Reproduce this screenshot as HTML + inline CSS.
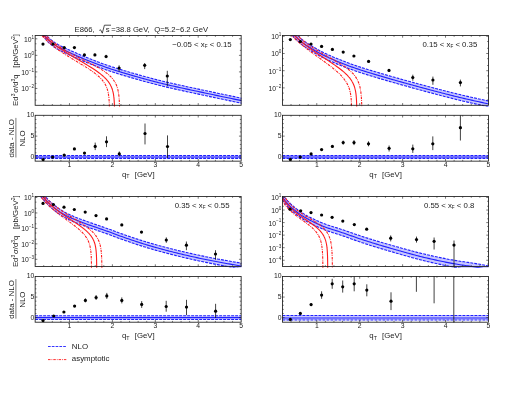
<!DOCTYPE html>
<html><head><meta charset="utf-8"><title>E866</title>
<style>html,body{margin:0;padding:0;background:#fff;overflow:hidden}body{width:523px;height:410px;font-family:"Liberation Sans", sans-serif}svg{display:block}</style>
</head><body>
<svg width="523" height="410" viewBox="0 0 523 410" font-family='"Liberation Sans", sans-serif'>
<rect width="523" height="410" fill="#fff"/>
<defs>
<clipPath id="m00"><rect x="34.85" y="35.2" width="206.6" height="71.4"/></clipPath>
<clipPath id="r00"><rect x="34.85" y="115" width="206.6" height="46.45"/></clipPath>
<clipPath id="m01"><rect x="282.15" y="35.2" width="206.6" height="71.4"/></clipPath>
<clipPath id="r01"><rect x="282.15" y="115" width="206.6" height="46.45"/></clipPath>
<clipPath id="m10"><rect x="34.85" y="196.2" width="206.6" height="71.6"/></clipPath>
<clipPath id="r10"><rect x="34.85" y="276.2" width="206.6" height="46.3"/></clipPath>
<clipPath id="m11"><rect x="282.15" y="196.2" width="206.6" height="71.6"/></clipPath>
<clipPath id="r11"><rect x="282.15" y="276.2" width="206.6" height="46.3"/></clipPath>
</defs>
<g opacity="0.999">
<g clip-path="url(#m00)">
<path d="M40 27.05 L41.28 28.65 L42.56 30.24 L43.83 31.84 L45.11 33.44 L46.39 35.11 L47.67 36.62 L48.94 37.9 L50.22 39.06 L51.5 40.12 L52.78 41.11 L54.05 42.03 L55.33 42.89 L56.61 43.69 L57.89 44.44 L59.17 45.13 L60.44 45.77 L61.72 46.38 L63 46.98 L64.28 47.59 L65.55 48.21 L66.83 48.83 L68.11 49.45 L69.39 50.04 L70.66 50.62 L71.94 51.18 L73.22 51.73 L74.5 52.29 L75.77 52.87 L77.05 53.45 L78.33 54.02 L79.61 54.59 L80.89 55.14 L82.16 55.68 L83.44 56.21 L84.72 56.73 L86 57.24 L87.27 57.75 L88.55 58.26 L89.83 58.75 L91.11 59.25 L92.38 59.74 L93.66 60.24 L94.94 60.73 L96.22 61.22 L97.5 61.71 L98.77 62.2 L100.05 62.68 L101.33 63.16 L102.61 63.64 L103.88 64.1 L105.16 64.56 L106.44 65 L107.72 65.44 L108.99 65.87 L110.27 66.29 L111.55 66.7 L112.83 67.11 L114.11 67.52 L115.38 67.92 L116.66 68.32 L117.94 68.72 L119.22 69.12 L120.49 69.51 L121.77 69.9 L123.05 70.29 L124.33 70.68 L125.6 71.06 L126.88 71.44 L128.16 71.82 L129.44 72.19 L130.71 72.56 L131.99 72.92 L133.27 73.29 L134.55 73.66 L135.83 74.02 L137.1 74.38 L138.38 74.75 L139.66 75.11 L140.94 75.47 L142.21 75.83 L143.49 76.18 L144.77 76.54 L146.05 76.89 L147.32 77.24 L148.6 77.58 L149.88 77.93 L151.16 78.27 L152.44 78.61 L153.71 78.94 L154.99 79.28 L156.27 79.61 L157.55 79.93 L158.82 80.26 L160.1 80.58 L161.38 80.89 L162.66 81.2 L163.93 81.51 L165.21 81.81 L166.49 82.11 L167.77 82.4 L169.04 82.7 L170.32 82.99 L171.6 83.28 L172.88 83.56 L174.16 83.85 L175.43 84.14 L176.71 84.42 L177.99 84.7 L179.27 84.99 L180.54 85.27 L181.82 85.55 L183.1 85.83 L184.38 86.11 L185.65 86.39 L186.93 86.67 L188.21 86.94 L189.49 87.21 L190.77 87.49 L192.04 87.76 L193.32 88.03 L194.6 88.3 L195.88 88.57 L197.15 88.85 L198.43 89.12 L199.71 89.39 L200.99 89.66 L202.26 89.93 L203.54 90.2 L204.82 90.47 L206.1 90.75 L207.38 91.02 L208.65 91.29 L209.93 91.56 L211.21 91.83 L212.49 92.1 L213.76 92.37 L215.04 92.64 L216.32 92.91 L217.6 93.18 L218.87 93.45 L220.15 93.72 L221.43 93.99 L222.71 94.26 L223.98 94.53 L225.26 94.8 L226.54 95.06 L227.82 95.33 L229.1 95.6 L230.37 95.86 L231.65 96.13 L232.93 96.39 L234.21 96.66 L235.48 96.92 L236.76 97.18 L238.04 97.44 L239.32 97.71 L240.59 97.97 L241.87 98.23 L243.15 98.49 L243.15 103.54 L241.87 103.28 L240.59 103.02 L239.32 102.75 L238.04 102.49 L236.76 102.23 L235.48 101.96 L234.21 101.7 L232.93 101.43 L231.65 101.17 L230.37 100.9 L229.1 100.64 L227.82 100.37 L226.54 100.1 L225.26 99.83 L223.98 99.56 L222.71 99.29 L221.43 99.03 L220.15 98.76 L218.87 98.49 L217.6 98.21 L216.32 97.94 L215.04 97.67 L213.76 97.4 L212.49 97.13 L211.21 96.86 L209.93 96.59 L208.65 96.31 L207.38 96.04 L206.1 95.77 L204.82 95.5 L203.54 95.22 L202.26 94.95 L200.99 94.68 L199.71 94.41 L198.43 94.13 L197.15 93.86 L195.88 93.59 L194.6 93.32 L193.32 93.04 L192.04 92.77 L190.77 92.5 L189.49 92.22 L188.21 91.95 L186.93 91.67 L185.65 91.4 L184.38 91.12 L183.1 90.84 L181.82 90.56 L180.54 90.27 L179.27 89.99 L177.99 89.71 L176.71 89.42 L175.43 89.14 L174.16 88.85 L172.88 88.56 L171.6 88.27 L170.32 87.98 L169.04 87.69 L167.77 87.4 L166.49 87.1 L165.21 86.8 L163.93 86.5 L162.66 86.19 L161.38 85.88 L160.1 85.56 L158.82 85.24 L157.55 84.92 L156.27 84.59 L154.99 84.26 L153.71 83.93 L152.44 83.59 L151.16 83.25 L149.88 82.91 L148.6 82.56 L147.32 82.22 L146.05 81.87 L144.77 81.51 L143.49 81.16 L142.21 80.8 L140.94 80.44 L139.66 80.08 L138.38 79.72 L137.1 79.36 L135.83 78.99 L134.55 78.63 L133.27 78.26 L131.99 77.89 L130.71 77.52 L129.44 77.15 L128.16 76.78 L126.88 76.4 L125.6 76.02 L124.33 75.64 L123.05 75.25 L121.77 74.86 L120.49 74.47 L119.22 74.08 L117.94 73.68 L116.66 73.28 L115.38 72.88 L114.11 72.47 L112.83 72.07 L111.55 71.66 L110.27 71.24 L108.99 70.82 L107.72 70.39 L106.44 69.95 L105.16 69.5 L103.88 69.05 L102.61 68.58 L101.33 68.11 L100.05 67.63 L98.77 67.14 L97.5 66.65 L96.22 66.16 L94.94 65.67 L93.66 65.18 L92.38 64.68 L91.11 64.19 L89.83 63.69 L88.55 63.19 L87.27 62.69 L86 62.18 L84.72 61.66 L83.44 61.14 L82.16 60.61 L80.89 60.07 L79.61 59.52 L78.33 58.95 L77.05 58.37 L75.77 57.79 L74.5 57.22 L73.22 56.66 L71.94 56.1 L70.66 55.54 L69.39 54.97 L68.11 54.37 L66.83 53.75 L65.55 53.13 L64.28 52.5 L63 51.89 L61.72 51.29 L60.44 50.69 L59.17 50.05 L57.89 49.36 L56.61 48.61 L55.33 47.8 L54.05 46.94 L52.78 46.02 L51.5 45.03 L50.22 43.97 L48.94 42.81 L47.67 41.53 L46.39 40.02 L45.11 38.35 L43.83 36.74 L42.56 35.15 L41.28 33.55 L40 31.95Z" fill="#c6c6ff" stroke="none"/>
<path d="M40 27.05 L41.28 28.65 L42.56 30.24 L43.83 31.84 L45.11 33.44 L46.39 35.11 L47.67 36.62 L48.94 37.9 L50.22 39.06 L51.5 40.12 L52.78 41.11 L54.05 42.03 L55.33 42.89 L56.61 43.69 L57.89 44.44 L59.17 45.13 L60.44 45.77 L61.72 46.38 L63 46.98 L64.28 47.59 L65.55 48.21 L66.83 48.83 L68.11 49.45 L69.39 50.04 L70.66 50.62 L71.94 51.18 L73.22 51.73 L74.5 52.29 L75.77 52.87 L77.05 53.45 L78.33 54.02 L79.61 54.59 L80.89 55.14 L82.16 55.68 L83.44 56.21 L84.72 56.73 L86 57.24 L87.27 57.75 L88.55 58.26 L89.83 58.75 L91.11 59.25 L92.38 59.74 L93.66 60.24 L94.94 60.73 L96.22 61.22 L97.5 61.71 L98.77 62.2 L100.05 62.68 L101.33 63.16 L102.61 63.64 L103.88 64.1 L105.16 64.56 L106.44 65 L107.72 65.44 L108.99 65.87 L110.27 66.29 L111.55 66.7 L112.83 67.11 L114.11 67.52 L115.38 67.92 L116.66 68.32 L117.94 68.72 L119.22 69.12 L120.49 69.51 L121.77 69.9 L123.05 70.29 L124.33 70.68 L125.6 71.06 L126.88 71.44 L128.16 71.82 L129.44 72.19 L130.71 72.56 L131.99 72.92 L133.27 73.29 L134.55 73.66 L135.83 74.02 L137.1 74.38 L138.38 74.75 L139.66 75.11 L140.94 75.47 L142.21 75.83 L143.49 76.18 L144.77 76.54 L146.05 76.89 L147.32 77.24 L148.6 77.58 L149.88 77.93 L151.16 78.27 L152.44 78.61 L153.71 78.94 L154.99 79.28 L156.27 79.61 L157.55 79.93 L158.82 80.26 L160.1 80.58 L161.38 80.89 L162.66 81.2 L163.93 81.51 L165.21 81.81 L166.49 82.11 L167.77 82.4 L169.04 82.7 L170.32 82.99 L171.6 83.28 L172.88 83.56 L174.16 83.85 L175.43 84.14 L176.71 84.42 L177.99 84.7 L179.27 84.99 L180.54 85.27 L181.82 85.55 L183.1 85.83 L184.38 86.11 L185.65 86.39 L186.93 86.67 L188.21 86.94 L189.49 87.21 L190.77 87.49 L192.04 87.76 L193.32 88.03 L194.6 88.3 L195.88 88.57 L197.15 88.85 L198.43 89.12 L199.71 89.39 L200.99 89.66 L202.26 89.93 L203.54 90.2 L204.82 90.47 L206.1 90.75 L207.38 91.02 L208.65 91.29 L209.93 91.56 L211.21 91.83 L212.49 92.1 L213.76 92.37 L215.04 92.64 L216.32 92.91 L217.6 93.18 L218.87 93.45 L220.15 93.72 L221.43 93.99 L222.71 94.26 L223.98 94.53 L225.26 94.8 L226.54 95.06 L227.82 95.33 L229.1 95.6 L230.37 95.86 L231.65 96.13 L232.93 96.39 L234.21 96.66 L235.48 96.92 L236.76 97.18 L238.04 97.44 L239.32 97.71 L240.59 97.97 L241.87 98.23 L243.15 98.49" fill="none" stroke="#1f1fff" stroke-width="1.1" stroke-dasharray="2.9 1.1"/>
<path d="M40 31.95 L41.28 33.55 L42.56 35.15 L43.83 36.74 L45.11 38.35 L46.39 40.02 L47.67 41.53 L48.94 42.81 L50.22 43.97 L51.5 45.03 L52.78 46.02 L54.05 46.94 L55.33 47.8 L56.61 48.61 L57.89 49.36 L59.17 50.05 L60.44 50.69 L61.72 51.29 L63 51.89 L64.28 52.5 L65.55 53.13 L66.83 53.75 L68.11 54.37 L69.39 54.97 L70.66 55.54 L71.94 56.1 L73.22 56.66 L74.5 57.22 L75.77 57.79 L77.05 58.37 L78.33 58.95 L79.61 59.52 L80.89 60.07 L82.16 60.61 L83.44 61.14 L84.72 61.66 L86 62.18 L87.27 62.69 L88.55 63.19 L89.83 63.69 L91.11 64.19 L92.38 64.68 L93.66 65.18 L94.94 65.67 L96.22 66.16 L97.5 66.65 L98.77 67.14 L100.05 67.63 L101.33 68.11 L102.61 68.58 L103.88 69.05 L105.16 69.5 L106.44 69.95 L107.72 70.39 L108.99 70.82 L110.27 71.24 L111.55 71.66 L112.83 72.07 L114.11 72.47 L115.38 72.88 L116.66 73.28 L117.94 73.68 L119.22 74.08 L120.49 74.47 L121.77 74.86 L123.05 75.25 L124.33 75.64 L125.6 76.02 L126.88 76.4 L128.16 76.78 L129.44 77.15 L130.71 77.52 L131.99 77.89 L133.27 78.26 L134.55 78.63 L135.83 78.99 L137.1 79.36 L138.38 79.72 L139.66 80.08 L140.94 80.44 L142.21 80.8 L143.49 81.16 L144.77 81.51 L146.05 81.87 L147.32 82.22 L148.6 82.56 L149.88 82.91 L151.16 83.25 L152.44 83.59 L153.71 83.93 L154.99 84.26 L156.27 84.59 L157.55 84.92 L158.82 85.24 L160.1 85.56 L161.38 85.88 L162.66 86.19 L163.93 86.5 L165.21 86.8 L166.49 87.1 L167.77 87.4 L169.04 87.69 L170.32 87.98 L171.6 88.27 L172.88 88.56 L174.16 88.85 L175.43 89.14 L176.71 89.42 L177.99 89.71 L179.27 89.99 L180.54 90.27 L181.82 90.56 L183.1 90.84 L184.38 91.12 L185.65 91.4 L186.93 91.67 L188.21 91.95 L189.49 92.22 L190.77 92.5 L192.04 92.77 L193.32 93.04 L194.6 93.32 L195.88 93.59 L197.15 93.86 L198.43 94.13 L199.71 94.41 L200.99 94.68 L202.26 94.95 L203.54 95.22 L204.82 95.5 L206.1 95.77 L207.38 96.04 L208.65 96.31 L209.93 96.59 L211.21 96.86 L212.49 97.13 L213.76 97.4 L215.04 97.67 L216.32 97.94 L217.6 98.21 L218.87 98.49 L220.15 98.76 L221.43 99.03 L222.71 99.29 L223.98 99.56 L225.26 99.83 L226.54 100.1 L227.82 100.37 L229.1 100.64 L230.37 100.9 L231.65 101.17 L232.93 101.43 L234.21 101.7 L235.48 101.96 L236.76 102.23 L238.04 102.49 L239.32 102.75 L240.59 103.02 L241.87 103.28 L243.15 103.54" fill="none" stroke="#1f1fff" stroke-width="1.1" stroke-dasharray="2.9 1.1"/>
<path d="M40 29.5 L41.28 31.1 L42.56 32.69 L43.83 34.29 L45.11 35.89 L46.39 37.56 L47.67 39.07 L48.94 40.35 L50.22 41.51 L51.5 42.57 L52.78 43.56 L54.05 44.48 L55.33 45.34 L56.61 46.14 L57.89 46.89 L59.17 47.58 L60.44 48.22 L61.72 48.83 L63 49.43 L64.28 50.04 L65.55 50.66 L66.83 51.28 L68.11 51.9 L69.39 52.49 L70.66 53.07 L71.94 53.63 L73.22 54.18 L74.5 54.74 L75.77 55.32 L77.05 55.9 L78.33 56.47 L79.61 57.04 L80.89 57.59 L82.16 58.13 L83.44 58.66 L84.72 59.18 L86 59.69 L87.27 60.2 L88.55 60.71 L89.83 61.2 L91.11 61.7 L92.38 62.19 L93.66 62.69 L94.94 63.18 L96.22 63.67 L97.5 64.16 L98.77 64.65 L100.05 65.13 L101.33 65.61 L102.61 66.09 L103.88 66.55 L105.16 67.01 L106.44 67.45 L107.72 67.89 L108.99 68.32 L110.27 68.74 L111.55 69.15 L112.83 69.56 L114.11 69.97 L115.38 70.37 L116.66 70.77 L117.94 71.17 L119.22 71.57 L120.49 71.96 L121.77 72.35 L123.05 72.74 L124.33 73.13 L125.6 73.51 L126.88 73.89 L128.16 74.27 L129.44 74.64 L130.71 75.01 L131.99 75.37 L133.27 75.74 L134.55 76.11 L135.83 76.47 L137.1 76.83 L138.38 77.2 L139.66 77.56 L140.94 77.92 L142.21 78.28 L143.49 78.63 L144.77 78.99 L146.05 79.34 L147.32 79.69 L148.6 80.03 L149.88 80.38 L151.16 80.72 L152.44 81.06 L153.71 81.39 L154.99 81.73 L156.27 82.06 L157.55 82.38 L158.82 82.71 L160.1 83.03 L161.38 83.34 L162.66 83.65 L163.93 83.96 L165.21 84.26 L166.49 84.56 L167.77 84.85 L169.04 85.15 L170.32 85.44 L171.6 85.73 L172.88 86.01 L174.16 86.3 L175.43 86.59 L176.71 86.87 L177.99 87.15 L179.27 87.44 L180.54 87.72 L181.82 88 L183.1 88.28 L184.38 88.56 L185.65 88.84 L186.93 89.12 L188.21 89.39 L189.49 89.66 L190.77 89.94 L192.04 90.21 L193.32 90.48 L194.6 90.75 L195.88 91.02 L197.15 91.3 L198.43 91.57 L199.71 91.84 L200.99 92.11 L202.26 92.38 L203.54 92.65 L204.82 92.92 L206.1 93.2 L207.38 93.47 L208.65 93.74 L209.93 94.01 L211.21 94.28 L212.49 94.55 L213.76 94.82 L215.04 95.09 L216.32 95.36 L217.6 95.63 L218.87 95.9 L220.15 96.17 L221.43 96.44 L222.71 96.71 L223.98 96.98 L225.26 97.25 L226.54 97.51 L227.82 97.78 L229.1 98.05 L230.37 98.31 L231.65 98.58 L232.93 98.84 L234.21 99.11 L235.48 99.37 L236.76 99.63 L238.04 99.89 L239.32 100.16 L240.59 100.42 L241.87 100.68 L243.15 100.94" fill="none" stroke="#1f1fff" stroke-width="1.1"/>
</g>
<g clip-path="url(#m00)">
<path d="M31.72 17.48 L32.61 19.98 L33.51 22.14 L34.39 24.06 L35.27 25.78 L36.14 27.35 L37 28.79 L37.86 30.11 L38.71 31.35 L39.55 32.51 L40.39 33.6 L41.22 34.63 L42.04 35.6 L42.86 36.53 L43.67 37.41 L44.47 38.26 L45.26 39.07 L46.06 39.85 L46.84 40.6 L47.62 41.32 L48.39 42.02 L49.15 42.7 L49.91 43.35 L50.66 43.99 L51.41 44.6 L52.14 45.2 L52.88 45.78 L53.6 46.35 L54.32 46.9 L55.04 47.44 L55.74 47.97 L56.45 48.48 L57.14 48.99 L57.83 49.48 L58.51 49.96 L59.19 50.44 L59.86 50.9 L60.53 51.35 L61.19 51.8 L61.84 52.23 L62.49 52.66 L63.13 53.09 L63.76 53.5 L64.39 53.91 L65.02 54.31 L65.64 54.71 L66.25 55.09 L66.86 55.48 L67.46 55.86 L68.05 56.23 L68.64 56.59 L69.23 56.96 L69.8 57.31 L70.38 57.66 L70.94 58.01 L71.51 58.36 L72.06 58.69 L72.61 59.03 L73.16 59.36 L73.7 59.69 L74.23 60.01 L74.76 60.33 L75.29 60.64 L75.81 60.96 L76.32 61.27 L76.83 61.57 L77.33 61.87 L77.83 62.17 L78.32 62.47 L78.81 62.77 L79.29 63.06 L79.77 63.35 L80.24 63.63 L80.71 63.91 L81.17 64.2 L81.63 64.47 L82.08 64.75 L82.53 65.02 L82.97 65.3 L83.41 65.57 L83.84 65.83 L84.27 66.1 L84.69 66.36 L85.11 66.62 L85.53 66.88 L85.94 67.14 L86.34 67.4 L86.74 67.65 L87.13 67.9 L87.53 68.16 L87.91 68.41 L88.29 68.65 L88.67 68.9 L89.04 69.15 L89.41 69.39 L89.77 69.63 L90.13 69.87 L90.49 70.11 L90.84 70.35 L91.18 70.59 L91.53 70.83 L91.86 71.06 L92.2 71.3 L92.53 71.53 L92.85 71.76 L93.17 71.99 L93.49 72.23 L93.8 72.46 L94.11 72.68 L94.41 72.91 L94.71 73.14 L95.01 73.37 L95.3 73.59 L95.59 73.82 L95.87 74.04 L96.16 74.27 L96.43 74.49 L96.71 74.71 L96.97 74.94 L97.24 75.16 L97.5 75.38 L97.76 75.6 L98.01 75.82 L98.26 76.04 L98.51 76.26 L98.75 76.48 L98.99 76.7 L99.23 76.92 L99.46 77.14 L99.69 77.36 L99.91 77.58 L100.14 77.8 L100.35 78.02 L100.57 78.24 L100.78 78.46 L100.99 78.68 L101.19 78.9 L101.4 79.12 L101.59 79.34 L101.79 79.56 L101.98 79.78 L102.17 80 L102.36 80.22 L102.54 80.44 L102.72 80.66 L102.89 80.88 L103.07 81.11 L103.24 81.33 L103.4 81.55 L103.57 81.78 L103.73 82 L103.89 82.23 L104.04 82.46 L104.19 82.68 L104.34 82.91 L104.49 83.14 L104.63 83.37 L104.78 83.6 L104.91 83.83 L105.05 84.07 L105.18 84.3 L105.31 84.54 L105.44 84.77 L105.57 85.01 L105.69 85.25 L105.81 85.49 L105.93 85.73 L106.04 85.97 L106.15 86.22 L106.26 86.46 L106.37 86.71 L106.48 86.96 L106.58 87.21 L106.68 87.47 L106.78 87.72 L106.87 87.98 L106.97 88.24 L107.06 88.5 L107.15 88.76 L107.24 89.03 L107.32 89.3 L107.4 89.57 L107.48 89.84 L107.56 90.12 L107.64 90.39 L107.71 90.68 L107.79 90.96 L107.86 91.25 L107.93 91.54 L107.99 91.83 L108.06 92.13 L108.12 92.43 L108.18 92.74 L108.24 93.04 L108.3 93.36 L108.35 93.67 L108.41 93.99 L108.46 94.32 L108.51 94.65 L108.56 94.98 L108.61 95.32 L108.65 95.66 L108.7 96.01 L108.74 96.37 L108.78 96.73 L108.82 97.1 L108.86 97.47 L108.9 97.85 L108.93 98.23 L108.97 98.63 L109 99.03 L109.03 99.44 L109.06 99.85 L109.09 100.28 L109.12 100.71 L109.15 101.15 L109.17 101.61 L109.2 102.07 L109.22 102.54 L109.24 103.03 L109.26 103.52 L109.28 104.03 L109.3 104.55 L109.32 105.09 L109.34 105.64 L109.35 106.2 L109.37 106.79 L109.38 107.38 L109.4 108 L109.4 108.3" fill="none" stroke="#ff1a1a" stroke-width="1.1" stroke-dasharray="2.5 1.0 0.8 1.0"/>
<path d="M31.72 9.04 L32.73 12.54 L33.74 15.5 L34.74 18.06 L35.73 20.32 L36.72 22.33 L37.69 24.16 L38.66 25.83 L39.62 27.36 L40.58 28.77 L41.52 30.09 L42.46 31.33 L43.39 32.48 L44.32 33.57 L45.23 34.61 L46.14 35.58 L47.04 36.51 L47.93 37.4 L48.82 38.25 L49.7 39.06 L50.57 39.83 L51.44 40.58 L52.29 41.3 L53.14 41.99 L53.99 42.65 L54.82 43.3 L55.65 43.92 L56.47 44.52 L57.29 45.11 L58.09 45.68 L58.89 46.23 L59.69 46.76 L60.47 47.28 L61.25 47.79 L62.03 48.28 L62.79 48.77 L63.55 49.24 L64.3 49.7 L65.05 50.15 L65.79 50.58 L66.52 51.01 L67.25 51.43 L67.97 51.85 L68.68 52.25 L69.38 52.64 L70.08 53.03 L70.78 53.41 L71.46 53.79 L72.14 54.15 L72.81 54.52 L73.48 54.87 L74.14 55.22 L74.8 55.56 L75.44 55.9 L76.09 56.24 L76.72 56.56 L77.35 56.89 L77.97 57.21 L78.59 57.52 L79.2 57.83 L79.81 58.14 L80.41 58.44 L81 58.74 L81.59 59.03 L82.17 59.33 L82.74 59.61 L83.31 59.9 L83.87 60.18 L84.43 60.46 L84.98 60.74 L85.53 61.01 L86.07 61.28 L86.6 61.55 L87.13 61.81 L87.65 62.08 L88.17 62.34 L88.68 62.6 L89.19 62.85 L89.69 63.11 L90.19 63.36 L90.67 63.61 L91.16 63.86 L91.64 64.1 L92.11 64.35 L92.58 64.59 L93.04 64.84 L93.5 65.08 L93.95 65.31 L94.4 65.55 L94.84 65.79 L95.28 66.02 L95.71 66.26 L96.14 66.49 L96.56 66.72 L96.97 66.95 L97.38 67.18 L97.79 67.41 L98.19 67.64 L98.59 67.86 L98.98 68.09 L99.37 68.32 L99.75 68.54 L100.12 68.76 L100.5 68.99 L100.86 69.21 L101.23 69.43 L101.59 69.65 L101.94 69.88 L102.29 70.1 L102.63 70.32 L102.97 70.54 L103.31 70.76 L103.64 70.98 L103.96 71.19 L104.29 71.41 L104.6 71.63 L104.92 71.85 L105.22 72.07 L105.53 72.29 L105.83 72.51 L106.12 72.73 L106.42 72.94 L106.7 73.16 L106.99 73.38 L107.27 73.6 L107.54 73.82 L107.81 74.04 L108.08 74.26 L108.34 74.48 L108.6 74.7 L108.85 74.92 L109.11 75.14 L109.35 75.37 L109.6 75.59 L109.83 75.81 L110.07 76.03 L110.3 76.26 L110.53 76.48 L110.75 76.71 L110.98 76.94 L111.19 77.16 L111.41 77.39 L111.62 77.62 L111.82 77.85 L112.02 78.08 L112.22 78.31 L112.42 78.54 L112.61 78.78 L112.8 79.01 L112.99 79.25 L113.17 79.49 L113.35 79.72 L113.52 79.96 L113.7 80.2 L113.86 80.45 L114.03 80.69 L114.19 80.94 L114.35 81.18 L114.51 81.43 L114.66 81.68 L114.81 81.93 L114.96 82.19 L115.11 82.44 L115.25 82.7 L115.39 82.96 L115.52 83.22 L115.65 83.48 L115.78 83.74 L115.91 84.01 L116.04 84.28 L116.16 84.55 L116.28 84.83 L116.39 85.1 L116.51 85.38 L116.62 85.66 L116.73 85.95 L116.83 86.23 L116.94 86.52 L117.04 86.82 L117.14 87.11 L117.23 87.41 L117.32 87.71 L117.42 88.02 L117.5 88.33 L117.59 88.64 L117.68 88.95 L117.76 89.27 L117.84 89.6 L117.92 89.92 L117.99 90.26 L118.06 90.59 L118.14 90.93 L118.21 91.28 L118.27 91.63 L118.34 91.98 L118.4 92.34 L118.46 92.7 L118.52 93.07 L118.58 93.45 L118.63 93.83 L118.69 94.22 L118.74 94.61 L118.79 95.01 L118.84 95.41 L118.89 95.83 L118.93 96.25 L118.97 96.67 L119.02 97.11 L119.06 97.55 L119.1 98 L119.13 98.47 L119.17 98.94 L119.2 99.41 L119.24 99.9 L119.27 100.4 L119.3 100.91 L119.33 101.44 L119.35 101.97 L119.38 102.52 L119.4 103.08 L119.43 103.65 L119.45 104.24 L119.47 104.84 L119.49 105.46 L119.51 106.1 L119.53 106.75 L119.55 107.43 L119.56 108.12 L119.56 108.3" fill="none" stroke="#ff1a1a" stroke-width="1.1" stroke-dasharray="2.5 1.0 0.8 1.0"/>
<path d="M31.72 16.68 L32.67 19.13 L33.62 21.25 L34.56 23.12 L35.5 24.8 L36.43 26.32 L37.35 27.72 L38.26 29.02 L39.16 30.22 L40.06 31.35 L40.95 32.42 L41.84 33.43 L42.72 34.38 L43.59 35.3 L44.45 36.17 L45.3 37 L46.15 37.8 L46.99 38.57 L47.83 39.32 L48.66 40.04 L49.48 40.73 L50.29 41.4 L51.1 42.06 L51.9 42.69 L52.7 43.31 L53.48 43.91 L54.26 44.49 L55.04 45.06 L55.8 45.62 L56.57 46.16 L57.32 46.7 L58.07 47.22 L58.81 47.73 L59.54 48.22 L60.27 48.71 L60.99 49.19 L61.71 49.66 L62.42 50.13 L63.12 50.58 L63.81 51.03 L64.5 51.47 L65.19 51.9 L65.86 52.32 L66.54 52.74 L67.2 53.15 L67.86 53.56 L68.51 53.96 L69.16 54.35 L69.8 54.74 L70.43 55.12 L71.06 55.5 L71.68 55.87 L72.3 56.24 L72.91 56.6 L73.52 56.96 L74.11 57.32 L74.71 57.67 L75.29 58.02 L75.88 58.36 L76.45 58.7 L77.02 59.03 L77.59 59.36 L78.14 59.69 L78.7 60.02 L79.24 60.34 L79.79 60.66 L80.32 60.97 L80.85 61.28 L81.38 61.59 L81.9 61.9 L82.41 62.2 L82.92 62.5 L83.42 62.8 L83.92 63.09 L84.41 63.39 L84.9 63.68 L85.38 63.97 L85.86 64.25 L86.33 64.53 L86.8 64.82 L87.26 65.1 L87.71 65.37 L88.17 65.65 L88.61 65.92 L89.05 66.19 L89.49 66.46 L89.92 66.73 L90.35 67 L90.77 67.26 L91.18 67.52 L91.59 67.78 L92 68.04 L92.4 68.3 L92.8 68.56 L93.19 68.81 L93.58 69.06 L93.96 69.32 L94.34 69.57 L94.71 69.82 L95.08 70.06 L95.45 70.31 L95.81 70.56 L96.16 70.8 L96.51 71.05 L96.86 71.29 L97.2 71.53 L97.54 71.77 L97.87 72.01 L98.2 72.25 L98.52 72.49 L98.84 72.72 L99.16 72.96 L99.47 73.19 L99.78 73.43 L100.08 73.66 L100.38 73.9 L100.67 74.13 L100.96 74.36 L101.25 74.59 L101.53 74.82 L101.81 75.05 L102.09 75.28 L102.36 75.51 L102.62 75.74 L102.89 75.97 L103.15 76.2 L103.4 76.43 L103.65 76.65 L103.9 76.88 L104.14 77.11 L104.38 77.34 L104.62 77.56 L104.85 77.79 L105.08 78.02 L105.31 78.24 L105.53 78.47 L105.75 78.7 L105.96 78.92 L106.17 79.15 L106.38 79.38 L106.59 79.61 L106.79 79.83 L106.99 80.06 L107.18 80.29 L107.37 80.52 L107.56 80.75 L107.74 80.98 L107.92 81.21 L108.1 81.44 L108.28 81.67 L108.45 81.9 L108.62 82.13 L108.78 82.36 L108.94 82.6 L109.1 82.83 L109.26 83.06 L109.41 83.3 L109.56 83.54 L109.71 83.77 L109.86 84.01 L110 84.25 L110.14 84.49 L110.27 84.73 L110.41 84.98 L110.54 85.22 L110.66 85.47 L110.79 85.71 L110.91 85.96 L111.03 86.21 L111.15 86.46 L111.26 86.71 L111.38 86.97 L111.49 87.22 L111.59 87.48 L111.7 87.74 L111.8 88 L111.9 88.27 L112 88.53 L112.09 88.8 L112.19 89.07 L112.28 89.34 L112.36 89.62 L112.45 89.9 L112.53 90.18 L112.62 90.46 L112.69 90.75 L112.77 91.03 L112.85 91.33 L112.92 91.62 L112.99 91.92 L113.06 92.22 L113.13 92.52 L113.19 92.83 L113.26 93.15 L113.32 93.46 L113.38 93.78 L113.44 94.11 L113.49 94.43 L113.55 94.77 L113.6 95.11 L113.65 95.45 L113.7 95.8 L113.74 96.15 L113.79 96.51 L113.83 96.87 L113.88 97.24 L113.92 97.62 L113.96 98 L114 98.39 L114.03 98.79 L114.07 99.19 L114.1 99.61 L114.13 100.03 L114.16 100.45 L114.19 100.89 L114.22 101.34 L114.25 101.79 L114.28 102.26 L114.3 102.74 L114.32 103.23 L114.35 103.73 L114.37 104.24 L114.39 104.77 L114.41 105.3 L114.42 105.86 L114.44 106.43 L114.46 107.02 L114.47 107.62 L114.49 108.24 L114.49 108.3" fill="none" stroke="#ff1a1a" stroke-width="1.1"/>
</g>
<rect x="35.15" y="35.5" width="206" height="69.8" fill="none" stroke="#1c1c1c" stroke-width="0.85"/>
<path d="M43.73 105.3 v-1.3 M43.73 35.5 v1.3 M52.32 105.3 v-1.3 M52.32 35.5 v1.3 M60.9 105.3 v-1.3 M60.9 35.5 v1.3 M69.48 105.3 v-2.2 M69.48 35.5 v2.2 M78.07 105.3 v-1.3 M78.07 35.5 v1.3 M86.65 105.3 v-1.3 M86.65 35.5 v1.3 M95.23 105.3 v-1.3 M95.23 35.5 v1.3 M103.82 105.3 v-1.3 M103.82 35.5 v1.3 M112.4 105.3 v-2.2 M112.4 35.5 v2.2 M120.98 105.3 v-1.3 M120.98 35.5 v1.3 M129.57 105.3 v-1.3 M129.57 35.5 v1.3 M138.15 105.3 v-1.3 M138.15 35.5 v1.3 M146.73 105.3 v-1.3 M146.73 35.5 v1.3 M155.32 105.3 v-2.2 M155.32 35.5 v2.2 M163.9 105.3 v-1.3 M163.9 35.5 v1.3 M172.48 105.3 v-1.3 M172.48 35.5 v1.3 M181.07 105.3 v-1.3 M181.07 35.5 v1.3 M189.65 105.3 v-1.3 M189.65 35.5 v1.3 M198.23 105.3 v-2.2 M198.23 35.5 v2.2 M206.82 105.3 v-1.3 M206.82 35.5 v1.3 M215.4 105.3 v-1.3 M215.4 35.5 v1.3 M223.98 105.3 v-1.3 M223.98 35.5 v1.3 M232.57 105.3 v-1.3 M232.57 35.5 v1.3 M35.15 38.8 h2.2 M241.15 38.8 h-2.2 M35.15 55.35 h2.2 M241.15 55.35 h-2.2 M35.15 71.9 h2.2 M241.15 71.9 h-2.2 M35.15 88.45 h2.2 M241.15 88.45 h-2.2 M35.15 50.37 h1.3 M241.15 50.37 h-1.3 M35.15 43.78 h1.3 M241.15 43.78 h-1.3 M35.15 66.92 h1.3 M241.15 66.92 h-1.3 M35.15 60.33 h1.3 M241.15 60.33 h-1.3 M35.15 83.47 h1.3 M241.15 83.47 h-1.3 M35.15 76.88 h1.3 M241.15 76.88 h-1.3 M35.15 100.02 h1.3 M241.15 100.02 h-1.3 M35.15 93.43 h1.3 M241.15 93.43 h-1.3" stroke="#1c1c1c" stroke-width="0.6" fill="none"/>
<text x="34.05" y="41.7" font-size="6.8" text-anchor="end" fill="#222">10<tspan dy="-3.1" font-size="4.6">1</tspan></text>
<text x="34.05" y="58.25" font-size="6.8" text-anchor="end" fill="#222">10<tspan dy="-3.1" font-size="4.6">0</tspan></text>
<text x="34.05" y="74.8" font-size="6.8" text-anchor="end" fill="#222">10<tspan dy="-3.1" font-size="4.6">−1</tspan></text>
<text x="34.05" y="91.35" font-size="6.8" text-anchor="end" fill="#222">10<tspan dy="-3.1" font-size="4.6">−2</tspan></text>
<g clip-path="url(#m00)">
<circle cx="43" cy="44.1" r="1.6" fill="#000"/>
<circle cx="53" cy="44.1" r="1.6" fill="#000"/>
<circle cx="64.2" cy="47.6" r="1.6" fill="#000"/>
<circle cx="74.4" cy="47.6" r="1.6" fill="#000"/>
<line x1="84.4" y1="53.9" x2="84.4" y2="55.9" stroke="#111" stroke-width="0.8"/>
<circle cx="84.4" cy="54.9" r="1.6" fill="#000"/>
<line x1="94.9" y1="53.7" x2="94.9" y2="56.1" stroke="#111" stroke-width="0.8"/>
<circle cx="94.9" cy="54.9" r="1.6" fill="#000"/>
<line x1="106.1" y1="54.8" x2="106.1" y2="58.2" stroke="#111" stroke-width="0.8"/>
<circle cx="106.1" cy="56.5" r="1.6" fill="#000"/>
<line x1="119.1" y1="65.3" x2="119.1" y2="71.4" stroke="#111" stroke-width="0.8"/>
<circle cx="119.1" cy="68" r="1.6" fill="#000"/>
<line x1="144.7" y1="63" x2="144.7" y2="69.1" stroke="#111" stroke-width="0.8"/>
<circle cx="144.7" cy="65.3" r="1.6" fill="#000"/>
<line x1="167.3" y1="70.8" x2="167.3" y2="86.2" stroke="#111" stroke-width="0.8"/>
<circle cx="167.3" cy="76" r="1.6" fill="#000"/>
</g>
<text x="231.6" y="47.1" font-size="7.8" text-anchor="end" fill="#222" >−0.05 &lt; x<tspan dy="0.7" font-size="4.6">F</tspan><tspan dy="-0.7"> &lt; 0.15</tspan></text>
<g clip-path="url(#r00)">
<rect x="35.15" y="155.5" width="206" height="2.9" fill="#c6c6ff"/>
<path d="M35.15 155.5 H241.15" stroke="#1f1fff" stroke-width="1.1" stroke-dasharray="2.9 1.1" fill="none"/>
<path d="M35.15 158.4 H241.15" stroke="#1f1fff" stroke-width="1.1" stroke-dasharray="2.9 1.1" fill="none"/>
<path d="M35.15 156.95 H241.15" stroke="#1f1fff" stroke-width="1.1" fill="none"/>
</g>
<rect x="35.15" y="115.3" width="206" height="45.85" fill="none" stroke="#1c1c1c" stroke-width="0.85"/>
<path d="M43.73 161.15 v-1.3 M43.73 115.3 v1.3 M52.32 161.15 v-1.3 M52.32 115.3 v1.3 M60.9 161.15 v-1.3 M60.9 115.3 v1.3 M69.48 161.15 v-2.2 M69.48 115.3 v2.2 M78.07 161.15 v-1.3 M78.07 115.3 v1.3 M86.65 161.15 v-1.3 M86.65 115.3 v1.3 M95.23 161.15 v-1.3 M95.23 115.3 v1.3 M103.82 161.15 v-1.3 M103.82 115.3 v1.3 M112.4 161.15 v-2.2 M112.4 115.3 v2.2 M120.98 161.15 v-1.3 M120.98 115.3 v1.3 M129.57 161.15 v-1.3 M129.57 115.3 v1.3 M138.15 161.15 v-1.3 M138.15 115.3 v1.3 M146.73 161.15 v-1.3 M146.73 115.3 v1.3 M155.32 161.15 v-2.2 M155.32 115.3 v2.2 M163.9 161.15 v-1.3 M163.9 115.3 v1.3 M172.48 161.15 v-1.3 M172.48 115.3 v1.3 M181.07 161.15 v-1.3 M181.07 115.3 v1.3 M189.65 161.15 v-1.3 M189.65 115.3 v1.3 M198.23 161.15 v-2.2 M198.23 115.3 v2.2 M206.82 161.15 v-1.3 M206.82 115.3 v1.3 M215.4 161.15 v-1.3 M215.4 115.3 v1.3 M223.98 161.15 v-1.3 M223.98 115.3 v1.3 M232.57 161.15 v-1.3 M232.57 115.3 v1.3 M35.15 156.95 h2.2 M241.15 156.95 h-2.2 M35.15 136.12 h2.2 M241.15 136.12 h-2.2 M35.15 152.78 h1.3 M241.15 152.78 h-1.3 M35.15 148.62 h1.3 M241.15 148.62 h-1.3 M35.15 144.45 h1.3 M241.15 144.45 h-1.3 M35.15 140.29 h1.3 M241.15 140.29 h-1.3 M35.15 131.96 h1.3 M241.15 131.96 h-1.3 M35.15 127.79 h1.3 M241.15 127.79 h-1.3 M35.15 123.63 h1.3 M241.15 123.63 h-1.3 M35.15 119.47 h1.3 M241.15 119.47 h-1.3" stroke="#1c1c1c" stroke-width="0.6" fill="none"/>
<text x="34.25" y="159.15" font-size="6.8" text-anchor="end" fill="#222" >0</text>
<text x="34.25" y="138.32" font-size="6.8" text-anchor="end" fill="#222" >5</text>
<text x="34.25" y="116.9" font-size="6.8" text-anchor="end" fill="#222" >10</text>
<g clip-path="url(#r00)">
<circle cx="43.1" cy="159.6" r="1.6" fill="#000"/>
<circle cx="52.6" cy="157.1" r="1.6" fill="#000"/>
<circle cx="64.2" cy="155.1" r="1.6" fill="#000"/>
<line x1="74.4" y1="148" x2="74.4" y2="149.8" stroke="#111" stroke-width="0.8"/>
<circle cx="74.4" cy="148.9" r="1.6" fill="#000"/>
<line x1="84.5" y1="152" x2="84.5" y2="154.2" stroke="#111" stroke-width="0.8"/>
<circle cx="84.5" cy="153.1" r="1.6" fill="#000"/>
<line x1="95.2" y1="142.6" x2="95.2" y2="150.1" stroke="#111" stroke-width="0.8"/>
<circle cx="95.2" cy="146.4" r="1.6" fill="#000"/>
<line x1="106.5" y1="136.3" x2="106.5" y2="147.1" stroke="#111" stroke-width="0.8"/>
<circle cx="106.5" cy="141.8" r="1.6" fill="#000"/>
<line x1="119.3" y1="151.5" x2="119.3" y2="156.3" stroke="#111" stroke-width="0.8"/>
<circle cx="119.3" cy="153.9" r="1.6" fill="#000"/>
<line x1="145" y1="123.5" x2="145" y2="144.4" stroke="#111" stroke-width="0.8"/>
<circle cx="145" cy="133.5" r="1.6" fill="#000"/>
<line x1="167.5" y1="135.4" x2="167.5" y2="158" stroke="#111" stroke-width="0.8"/>
<circle cx="167.5" cy="146.5" r="1.6" fill="#000"/>
</g>
<text x="69.48" y="167.05" font-size="6.8" text-anchor="middle" fill="#222" >1</text>
<text x="112.4" y="167.05" font-size="6.8" text-anchor="middle" fill="#222" >2</text>
<text x="155.32" y="167.05" font-size="6.8" text-anchor="middle" fill="#222" >3</text>
<text x="198.23" y="167.05" font-size="6.8" text-anchor="middle" fill="#222" >4</text>
<text x="241.15" y="167.05" font-size="6.8" text-anchor="middle" fill="#222" >5</text>
<text x="121.95" y="176.95" font-size="7.8" fill="#222">q</text>
<text x="126.35" y="178.45" font-size="5.3" fill="#222">T</text>
<text x="134.75" y="176.95" font-size="7.8" fill="#222">[GeV]</text>
<g clip-path="url(#m01)">
<path d="M287 24.35 L288.28 25.73 L289.56 27.14 L290.84 28.55 L292.12 29.96 L293.4 31.34 L294.68 32.66 L295.96 33.95 L297.24 35.22 L298.52 36.46 L299.8 37.65 L301.08 38.75 L302.35 39.77 L303.63 40.72 L304.91 41.63 L306.19 42.5 L307.47 43.33 L308.75 44.15 L310.03 44.95 L311.31 45.75 L312.59 46.53 L313.87 47.31 L315.15 48.07 L316.43 48.81 L317.71 49.54 L318.99 50.25 L320.27 50.94 L321.55 51.61 L322.83 52.26 L324.11 52.89 L325.39 53.5 L326.67 54.09 L327.95 54.67 L329.23 55.24 L330.51 55.8 L331.78 56.35 L333.06 56.9 L334.34 57.45 L335.62 57.99 L336.9 58.53 L338.18 59.06 L339.46 59.58 L340.74 60.1 L342.02 60.61 L343.3 61.11 L344.58 61.6 L345.86 62.09 L347.14 62.57 L348.42 63.04 L349.7 63.5 L350.98 63.96 L352.26 64.42 L353.54 64.87 L354.82 65.31 L356.1 65.75 L357.38 66.18 L358.66 66.61 L359.93 67.04 L361.21 67.45 L362.49 67.86 L363.77 68.27 L365.05 68.66 L366.33 69.06 L367.61 69.45 L368.89 69.84 L370.17 70.23 L371.45 70.62 L372.73 71 L374.01 71.39 L375.29 71.77 L376.57 72.15 L377.85 72.53 L379.13 72.9 L380.41 73.28 L381.69 73.65 L382.97 74.02 L384.25 74.4 L385.53 74.76 L386.81 75.13 L388.09 75.5 L389.36 75.87 L390.64 76.23 L391.92 76.6 L393.2 76.96 L394.48 77.32 L395.76 77.68 L397.04 78.04 L398.32 78.4 L399.6 78.76 L400.88 79.12 L402.16 79.47 L403.44 79.83 L404.72 80.18 L406 80.53 L407.28 80.89 L408.56 81.24 L409.84 81.59 L411.12 81.94 L412.4 82.29 L413.68 82.63 L414.96 82.98 L416.24 83.33 L417.52 83.68 L418.79 84.02 L420.07 84.37 L421.35 84.71 L422.63 85.05 L423.91 85.4 L425.19 85.74 L426.47 86.08 L427.75 86.42 L429.03 86.76 L430.31 87.1 L431.59 87.43 L432.87 87.77 L434.15 88.1 L435.43 88.44 L436.71 88.77 L437.99 89.1 L439.27 89.43 L440.55 89.76 L441.83 90.09 L443.11 90.42 L444.39 90.75 L445.67 91.08 L446.94 91.4 L448.22 91.73 L449.5 92.05 L450.78 92.38 L452.06 92.7 L453.34 93.02 L454.62 93.33 L455.9 93.65 L457.18 93.96 L458.46 94.27 L459.74 94.58 L461.02 94.89 L462.3 95.19 L463.58 95.49 L464.86 95.79 L466.14 96.08 L467.42 96.37 L468.7 96.66 L469.98 96.95 L471.26 97.24 L472.54 97.52 L473.82 97.8 L475.1 98.08 L476.37 98.36 L477.65 98.64 L478.93 98.92 L480.21 99.2 L481.49 99.48 L482.77 99.76 L484.05 100.03 L485.33 100.31 L486.61 100.59 L487.89 100.87 L489.17 101.14 L490.45 101.42 L490.45 107.22 L489.17 106.94 L487.89 106.66 L486.61 106.38 L485.33 106.1 L484.05 105.81 L482.77 105.53 L481.49 105.25 L480.21 104.97 L478.93 104.69 L477.65 104.41 L476.37 104.12 L475.1 103.84 L473.82 103.55 L472.54 103.27 L471.26 102.98 L469.98 102.69 L468.7 102.4 L467.42 102.1 L466.14 101.81 L464.86 101.51 L463.58 101.21 L462.3 100.91 L461.02 100.6 L459.74 100.29 L458.46 99.98 L457.18 99.66 L455.9 99.35 L454.62 99.03 L453.34 98.71 L452.06 98.38 L450.78 98.06 L449.5 97.73 L448.22 97.4 L446.94 97.07 L445.67 96.74 L444.39 96.41 L443.11 96.08 L441.83 95.75 L440.55 95.41 L439.27 95.08 L437.99 94.75 L436.71 94.41 L435.43 94.08 L434.15 93.74 L432.87 93.4 L431.59 93.06 L430.31 92.72 L429.03 92.38 L427.75 92.04 L426.47 91.69 L425.19 91.35 L423.91 91 L422.63 90.65 L421.35 90.31 L420.07 89.96 L418.79 89.61 L417.52 89.26 L416.24 88.91 L414.96 88.56 L413.68 88.21 L412.4 87.86 L411.12 87.5 L409.84 87.15 L408.56 86.79 L407.28 86.44 L406 86.08 L404.72 85.73 L403.44 85.37 L402.16 85.01 L400.88 84.65 L399.6 84.29 L398.32 83.93 L397.04 83.57 L395.76 83.2 L394.48 82.84 L393.2 82.47 L391.92 82.11 L390.64 81.74 L389.36 81.37 L388.09 81 L386.81 80.63 L385.53 80.26 L384.25 79.88 L382.97 79.51 L381.69 79.13 L380.41 78.75 L379.13 78.37 L377.85 77.99 L376.57 77.61 L375.29 77.23 L374.01 76.84 L372.73 76.46 L371.45 76.07 L370.17 75.67 L368.89 75.28 L367.61 74.89 L366.33 74.49 L365.05 74.09 L363.77 73.69 L362.49 73.29 L361.21 72.87 L359.93 72.45 L358.66 72.02 L357.38 71.59 L356.1 71.15 L354.82 70.71 L353.54 70.26 L352.26 69.81 L350.98 69.35 L349.7 68.89 L348.42 68.42 L347.14 67.94 L345.86 67.46 L344.58 66.97 L343.3 66.47 L342.02 65.97 L340.74 65.46 L339.46 64.94 L338.18 64.41 L336.9 63.88 L335.62 63.34 L334.34 62.79 L333.06 62.24 L331.78 61.68 L330.51 61.13 L329.23 60.56 L327.95 59.99 L326.67 59.41 L325.39 58.81 L324.11 58.2 L322.83 57.57 L321.55 56.92 L320.27 56.24 L318.99 55.55 L317.71 54.83 L316.43 54.1 L315.15 53.35 L313.87 52.59 L312.59 51.81 L311.31 51.02 L310.03 50.22 L308.75 49.41 L307.47 48.59 L306.19 47.75 L304.91 46.88 L303.63 45.97 L302.35 45.01 L301.08 43.99 L299.8 42.88 L298.52 41.69 L297.24 40.45 L295.96 39.17 L294.68 37.89 L293.4 36.56 L292.12 35.18 L290.84 33.76 L289.56 32.34 L288.28 30.93 L287 29.55Z" fill="#c6c6ff" stroke="none"/>
<path d="M287 24.35 L288.28 25.73 L289.56 27.14 L290.84 28.55 L292.12 29.96 L293.4 31.34 L294.68 32.66 L295.96 33.95 L297.24 35.22 L298.52 36.46 L299.8 37.65 L301.08 38.75 L302.35 39.77 L303.63 40.72 L304.91 41.63 L306.19 42.5 L307.47 43.33 L308.75 44.15 L310.03 44.95 L311.31 45.75 L312.59 46.53 L313.87 47.31 L315.15 48.07 L316.43 48.81 L317.71 49.54 L318.99 50.25 L320.27 50.94 L321.55 51.61 L322.83 52.26 L324.11 52.89 L325.39 53.5 L326.67 54.09 L327.95 54.67 L329.23 55.24 L330.51 55.8 L331.78 56.35 L333.06 56.9 L334.34 57.45 L335.62 57.99 L336.9 58.53 L338.18 59.06 L339.46 59.58 L340.74 60.1 L342.02 60.61 L343.3 61.11 L344.58 61.6 L345.86 62.09 L347.14 62.57 L348.42 63.04 L349.7 63.5 L350.98 63.96 L352.26 64.42 L353.54 64.87 L354.82 65.31 L356.1 65.75 L357.38 66.18 L358.66 66.61 L359.93 67.04 L361.21 67.45 L362.49 67.86 L363.77 68.27 L365.05 68.66 L366.33 69.06 L367.61 69.45 L368.89 69.84 L370.17 70.23 L371.45 70.62 L372.73 71 L374.01 71.39 L375.29 71.77 L376.57 72.15 L377.85 72.53 L379.13 72.9 L380.41 73.28 L381.69 73.65 L382.97 74.02 L384.25 74.4 L385.53 74.76 L386.81 75.13 L388.09 75.5 L389.36 75.87 L390.64 76.23 L391.92 76.6 L393.2 76.96 L394.48 77.32 L395.76 77.68 L397.04 78.04 L398.32 78.4 L399.6 78.76 L400.88 79.12 L402.16 79.47 L403.44 79.83 L404.72 80.18 L406 80.53 L407.28 80.89 L408.56 81.24 L409.84 81.59 L411.12 81.94 L412.4 82.29 L413.68 82.63 L414.96 82.98 L416.24 83.33 L417.52 83.68 L418.79 84.02 L420.07 84.37 L421.35 84.71 L422.63 85.05 L423.91 85.4 L425.19 85.74 L426.47 86.08 L427.75 86.42 L429.03 86.76 L430.31 87.1 L431.59 87.43 L432.87 87.77 L434.15 88.1 L435.43 88.44 L436.71 88.77 L437.99 89.1 L439.27 89.43 L440.55 89.76 L441.83 90.09 L443.11 90.42 L444.39 90.75 L445.67 91.08 L446.94 91.4 L448.22 91.73 L449.5 92.05 L450.78 92.38 L452.06 92.7 L453.34 93.02 L454.62 93.33 L455.9 93.65 L457.18 93.96 L458.46 94.27 L459.74 94.58 L461.02 94.89 L462.3 95.19 L463.58 95.49 L464.86 95.79 L466.14 96.08 L467.42 96.37 L468.7 96.66 L469.98 96.95 L471.26 97.24 L472.54 97.52 L473.82 97.8 L475.1 98.08 L476.37 98.36 L477.65 98.64 L478.93 98.92 L480.21 99.2 L481.49 99.48 L482.77 99.76 L484.05 100.03 L485.33 100.31 L486.61 100.59 L487.89 100.87 L489.17 101.14 L490.45 101.42" fill="none" stroke="#1f1fff" stroke-width="1.1" stroke-dasharray="2.9 1.1"/>
<path d="M287 29.55 L288.28 30.93 L289.56 32.34 L290.84 33.76 L292.12 35.18 L293.4 36.56 L294.68 37.89 L295.96 39.17 L297.24 40.45 L298.52 41.69 L299.8 42.88 L301.08 43.99 L302.35 45.01 L303.63 45.97 L304.91 46.88 L306.19 47.75 L307.47 48.59 L308.75 49.41 L310.03 50.22 L311.31 51.02 L312.59 51.81 L313.87 52.59 L315.15 53.35 L316.43 54.1 L317.71 54.83 L318.99 55.55 L320.27 56.24 L321.55 56.92 L322.83 57.57 L324.11 58.2 L325.39 58.81 L326.67 59.41 L327.95 59.99 L329.23 60.56 L330.51 61.13 L331.78 61.68 L333.06 62.24 L334.34 62.79 L335.62 63.34 L336.9 63.88 L338.18 64.41 L339.46 64.94 L340.74 65.46 L342.02 65.97 L343.3 66.47 L344.58 66.97 L345.86 67.46 L347.14 67.94 L348.42 68.42 L349.7 68.89 L350.98 69.35 L352.26 69.81 L353.54 70.26 L354.82 70.71 L356.1 71.15 L357.38 71.59 L358.66 72.02 L359.93 72.45 L361.21 72.87 L362.49 73.29 L363.77 73.69 L365.05 74.09 L366.33 74.49 L367.61 74.89 L368.89 75.28 L370.17 75.67 L371.45 76.07 L372.73 76.46 L374.01 76.84 L375.29 77.23 L376.57 77.61 L377.85 77.99 L379.13 78.37 L380.41 78.75 L381.69 79.13 L382.97 79.51 L384.25 79.88 L385.53 80.26 L386.81 80.63 L388.09 81 L389.36 81.37 L390.64 81.74 L391.92 82.11 L393.2 82.47 L394.48 82.84 L395.76 83.2 L397.04 83.57 L398.32 83.93 L399.6 84.29 L400.88 84.65 L402.16 85.01 L403.44 85.37 L404.72 85.73 L406 86.08 L407.28 86.44 L408.56 86.79 L409.84 87.15 L411.12 87.5 L412.4 87.86 L413.68 88.21 L414.96 88.56 L416.24 88.91 L417.52 89.26 L418.79 89.61 L420.07 89.96 L421.35 90.31 L422.63 90.65 L423.91 91 L425.19 91.35 L426.47 91.69 L427.75 92.04 L429.03 92.38 L430.31 92.72 L431.59 93.06 L432.87 93.4 L434.15 93.74 L435.43 94.08 L436.71 94.41 L437.99 94.75 L439.27 95.08 L440.55 95.41 L441.83 95.75 L443.11 96.08 L444.39 96.41 L445.67 96.74 L446.94 97.07 L448.22 97.4 L449.5 97.73 L450.78 98.06 L452.06 98.38 L453.34 98.71 L454.62 99.03 L455.9 99.35 L457.18 99.66 L458.46 99.98 L459.74 100.29 L461.02 100.6 L462.3 100.91 L463.58 101.21 L464.86 101.51 L466.14 101.81 L467.42 102.1 L468.7 102.4 L469.98 102.69 L471.26 102.98 L472.54 103.27 L473.82 103.55 L475.1 103.84 L476.37 104.12 L477.65 104.41 L478.93 104.69 L480.21 104.97 L481.49 105.25 L482.77 105.53 L484.05 105.81 L485.33 106.1 L486.61 106.38 L487.89 106.66 L489.17 106.94 L490.45 107.22" fill="none" stroke="#1f1fff" stroke-width="1.1" stroke-dasharray="2.9 1.1"/>
<path d="M287 26.95 L288.28 28.33 L289.56 29.74 L290.84 31.16 L292.12 32.57 L293.4 33.95 L294.68 35.28 L295.96 36.56 L297.24 37.84 L298.52 39.08 L299.8 40.26 L301.08 41.37 L302.35 42.39 L303.63 43.35 L304.91 44.26 L306.19 45.12 L307.47 45.96 L308.75 46.78 L310.03 47.58 L311.31 48.38 L312.59 49.17 L313.87 49.95 L315.15 50.71 L316.43 51.46 L317.71 52.19 L318.99 52.9 L320.27 53.59 L321.55 54.27 L322.83 54.92 L324.11 55.55 L325.39 56.16 L326.67 56.75 L327.95 57.33 L329.23 57.9 L330.51 58.46 L331.78 59.02 L333.06 59.57 L334.34 60.12 L335.62 60.66 L336.9 61.2 L338.18 61.73 L339.46 62.26 L340.74 62.78 L342.02 63.29 L343.3 63.79 L344.58 64.29 L345.86 64.77 L347.14 65.25 L348.42 65.73 L349.7 66.2 L350.98 66.66 L352.26 67.12 L353.54 67.57 L354.82 68.01 L356.1 68.45 L357.38 68.89 L358.66 69.32 L359.93 69.74 L361.21 70.16 L362.49 70.57 L363.77 70.98 L365.05 71.38 L366.33 71.78 L367.61 72.17 L368.89 72.56 L370.17 72.95 L371.45 73.34 L372.73 73.73 L374.01 74.11 L375.29 74.5 L376.57 74.88 L377.85 75.26 L379.13 75.64 L380.41 76.02 L381.69 76.39 L382.97 76.77 L384.25 77.14 L385.53 77.51 L386.81 77.88 L388.09 78.25 L389.36 78.62 L390.64 78.99 L391.92 79.35 L393.2 79.72 L394.48 80.08 L395.76 80.44 L397.04 80.81 L398.32 81.17 L399.6 81.53 L400.88 81.88 L402.16 82.24 L403.44 82.6 L404.72 82.95 L406 83.31 L407.28 83.66 L408.56 84.02 L409.84 84.37 L411.12 84.72 L412.4 85.07 L413.68 85.42 L414.96 85.77 L416.24 86.12 L417.52 86.47 L418.79 86.82 L420.07 87.16 L421.35 87.51 L422.63 87.85 L423.91 88.2 L425.19 88.54 L426.47 88.89 L427.75 89.23 L429.03 89.57 L430.31 89.91 L431.59 90.25 L432.87 90.58 L434.15 90.92 L435.43 91.26 L436.71 91.59 L437.99 91.92 L439.27 92.25 L440.55 92.59 L441.83 92.92 L443.11 93.25 L444.39 93.58 L445.67 93.91 L446.94 94.24 L448.22 94.57 L449.5 94.89 L450.78 95.22 L452.06 95.54 L453.34 95.86 L454.62 96.18 L455.9 96.5 L457.18 96.81 L458.46 97.13 L459.74 97.44 L461.02 97.74 L462.3 98.05 L463.58 98.35 L464.86 98.65 L466.14 98.94 L467.42 99.24 L468.7 99.53 L469.98 99.82 L471.26 100.11 L472.54 100.39 L473.82 100.68 L475.1 100.96 L476.37 101.24 L477.65 101.53 L478.93 101.81 L480.21 102.09 L481.49 102.37 L482.77 102.64 L484.05 102.92 L485.33 103.2 L486.61 103.48 L487.89 103.76 L489.17 104.04 L490.45 104.32" fill="none" stroke="#1f1fff" stroke-width="1.1"/>
</g>
<g clip-path="url(#m01)">
<path d="M279.02 17.11 L279.86 19.08 L280.69 20.83 L281.51 22.4 L282.33 23.83 L283.15 25.16 L283.95 26.39 L284.75 27.54 L285.55 28.63 L286.34 29.66 L287.12 30.64 L287.89 31.57 L288.66 32.46 L289.43 33.32 L290.18 34.14 L290.93 34.94 L291.68 35.71 L292.42 36.45 L293.15 37.17 L293.87 37.87 L294.59 38.55 L295.31 39.22 L296.02 39.86 L296.72 40.49 L297.41 41.11 L298.11 41.71 L298.79 42.3 L299.47 42.88 L300.14 43.44 L300.81 43.99 L301.47 44.54 L302.13 45.07 L302.78 45.59 L303.42 46.11 L304.06 46.61 L304.69 47.11 L305.32 47.6 L305.94 48.08 L306.56 48.55 L307.17 49.02 L307.77 49.48 L308.37 49.93 L308.96 50.38 L309.55 50.82 L310.14 51.25 L310.71 51.68 L311.29 52.11 L311.85 52.53 L312.41 52.94 L312.97 53.35 L313.52 53.75 L314.07 54.15 L314.61 54.54 L315.14 54.93 L315.67 55.32 L316.2 55.7 L316.72 56.08 L317.23 56.45 L317.74 56.82 L318.25 57.19 L318.75 57.55 L319.24 57.91 L319.73 58.26 L320.22 58.61 L320.7 58.96 L321.17 59.31 L321.64 59.65 L322.11 59.99 L322.57 60.32 L323.02 60.66 L323.47 60.99 L323.92 61.31 L324.36 61.64 L324.8 61.96 L325.23 62.28 L325.66 62.6 L326.08 62.91 L326.5 63.22 L326.91 63.53 L327.32 63.84 L327.73 64.14 L328.13 64.44 L328.52 64.75 L328.91 65.04 L329.3 65.34 L329.68 65.63 L330.06 65.93 L330.43 66.22 L330.8 66.5 L331.17 66.79 L331.53 67.08 L331.88 67.36 L332.24 67.64 L332.58 67.92 L332.93 68.2 L333.27 68.47 L333.6 68.75 L333.94 69.02 L334.26 69.29 L334.59 69.56 L334.91 69.83 L335.22 70.1 L335.53 70.37 L335.84 70.63 L336.14 70.89 L336.44 71.16 L336.74 71.42 L337.03 71.68 L337.32 71.94 L337.6 72.19 L337.88 72.45 L338.16 72.7 L338.43 72.96 L338.7 73.21 L338.97 73.47 L339.23 73.72 L339.49 73.97 L339.75 74.22 L340 74.47 L340.24 74.72 L340.49 74.96 L340.73 75.21 L340.97 75.46 L341.2 75.7 L341.43 75.95 L341.66 76.19 L341.88 76.44 L342.1 76.68 L342.32 76.92 L342.53 77.17 L342.74 77.41 L342.95 77.65 L343.16 77.89 L343.36 78.13 L343.55 78.38 L343.75 78.62 L343.94 78.86 L344.13 79.1 L344.31 79.34 L344.5 79.58 L344.68 79.82 L344.85 80.06 L345.03 80.3 L345.2 80.54 L345.36 80.78 L345.53 81.02 L345.69 81.26 L345.85 81.5 L346 81.75 L346.16 81.99 L346.31 82.23 L346.46 82.47 L346.6 82.72 L346.74 82.96 L346.88 83.2 L347.02 83.45 L347.16 83.69 L347.29 83.94 L347.42 84.19 L347.54 84.43 L347.67 84.68 L347.79 84.93 L347.91 85.18 L348.03 85.43 L348.14 85.69 L348.25 85.94 L348.36 86.19 L348.47 86.45 L348.57 86.71 L348.68 86.97 L348.78 87.23 L348.88 87.49 L348.97 87.75 L349.07 88.02 L349.16 88.28 L349.25 88.55 L349.34 88.82 L349.42 89.09 L349.5 89.37 L349.59 89.64 L349.67 89.92 L349.74 90.2 L349.82 90.48 L349.89 90.77 L349.96 91.06 L350.03 91.35 L350.1 91.64 L350.17 91.94 L350.23 92.24 L350.29 92.54 L350.35 92.84 L350.41 93.15 L350.47 93.47 L350.53 93.78 L350.58 94.1 L350.63 94.42 L350.68 94.75 L350.73 95.08 L350.78 95.42 L350.82 95.76 L350.87 96.11 L350.91 96.46 L350.95 96.81 L350.99 97.17 L351.03 97.54 L351.07 97.91 L351.11 98.29 L351.14 98.68 L351.17 99.07 L351.21 99.47 L351.24 99.87 L351.27 100.29 L351.29 100.71 L351.32 101.14 L351.35 101.58 L351.37 102.03 L351.4 102.48 L351.42 102.95 L351.44 103.43 L351.46 103.92 L351.48 104.42 L351.5 104.93 L351.52 105.46 L351.53 106 L351.55 106.55 L351.56 107.12 L351.58 107.71 L351.58 108.3" fill="none" stroke="#ff1a1a" stroke-width="1.1" stroke-dasharray="2.5 1.0 0.8 1.0"/>
<path d="M279.02 0.72 L279.97 4.55 L280.92 7.81 L281.86 10.64 L282.8 13.14 L283.73 15.38 L284.65 17.41 L285.56 19.27 L286.46 20.97 L287.36 22.55 L288.25 24.01 L289.14 25.38 L290.02 26.67 L290.89 27.88 L291.75 29.02 L292.6 30.11 L293.45 31.14 L294.29 32.12 L295.13 33.05 L295.96 33.94 L296.78 34.8 L297.59 35.62 L298.4 36.41 L299.2 37.17 L300 37.9 L300.78 38.61 L301.56 39.29 L302.34 39.95 L303.1 40.59 L303.87 41.21 L304.62 41.81 L305.37 42.39 L306.11 42.96 L306.84 43.51 L307.57 44.05 L308.29 44.57 L309.01 45.08 L309.72 45.58 L310.42 46.06 L311.11 46.54 L311.8 47 L312.49 47.45 L313.16 47.9 L313.84 48.33 L314.5 48.75 L315.16 49.17 L315.81 49.58 L316.46 49.98 L317.1 50.37 L317.73 50.76 L318.36 51.14 L318.98 51.51 L319.6 51.88 L320.21 52.24 L320.82 52.6 L321.41 52.94 L322.01 53.29 L322.59 53.63 L323.18 53.96 L323.75 54.29 L324.32 54.62 L324.89 54.94 L325.44 55.25 L326 55.57 L326.54 55.88 L327.09 56.18 L327.62 56.48 L328.15 56.78 L328.68 57.08 L329.2 57.37 L329.71 57.66 L330.22 57.94 L330.72 58.22 L331.22 58.5 L331.71 58.78 L332.2 59.06 L332.68 59.33 L333.16 59.6 L333.63 59.87 L334.1 60.13 L334.56 60.39 L335.01 60.66 L335.47 60.92 L335.91 61.17 L336.35 61.43 L336.79 61.68 L337.22 61.94 L337.65 62.19 L338.07 62.44 L338.48 62.69 L338.89 62.93 L339.3 63.18 L339.7 63.42 L340.1 63.67 L340.49 63.91 L340.88 64.15 L341.26 64.39 L341.64 64.63 L342.01 64.87 L342.38 65.1 L342.75 65.34 L343.11 65.58 L343.46 65.81 L343.81 66.05 L344.16 66.28 L344.5 66.51 L344.84 66.75 L345.17 66.98 L345.5 67.21 L345.82 67.44 L346.14 67.67 L346.46 67.91 L346.77 68.14 L347.08 68.37 L347.38 68.6 L347.68 68.83 L347.97 69.06 L348.26 69.29 L348.55 69.52 L348.83 69.75 L349.11 69.98 L349.39 70.21 L349.66 70.44 L349.92 70.67 L350.19 70.9 L350.45 71.14 L350.7 71.37 L350.95 71.6 L351.2 71.83 L351.44 72.07 L351.68 72.3 L351.92 72.53 L352.15 72.77 L352.38 73 L352.61 73.24 L352.83 73.48 L353.05 73.71 L353.26 73.95 L353.47 74.19 L353.68 74.43 L353.89 74.67 L354.09 74.91 L354.29 75.16 L354.48 75.4 L354.67 75.64 L354.86 75.89 L355.04 76.14 L355.22 76.39 L355.4 76.64 L355.58 76.89 L355.75 77.14 L355.92 77.39 L356.08 77.65 L356.24 77.9 L356.4 78.16 L356.56 78.42 L356.71 78.68 L356.86 78.94 L357.01 79.21 L357.16 79.48 L357.3 79.74 L357.44 80.01 L357.57 80.29 L357.71 80.56 L357.84 80.84 L357.96 81.12 L358.09 81.4 L358.21 81.68 L358.33 81.97 L358.45 82.25 L358.56 82.54 L358.68 82.84 L358.79 83.13 L358.89 83.43 L359 83.73 L359.1 84.04 L359.2 84.34 L359.3 84.65 L359.39 84.97 L359.49 85.29 L359.58 85.61 L359.66 85.93 L359.75 86.26 L359.83 86.59 L359.92 86.92 L359.99 87.26 L360.07 87.6 L360.15 87.95 L360.22 88.3 L360.29 88.66 L360.36 89.02 L360.43 89.38 L360.49 89.75 L360.56 90.13 L360.62 90.51 L360.68 90.9 L360.74 91.29 L360.79 91.69 L360.85 92.09 L360.9 92.5 L360.95 92.92 L361 93.34 L361.04 93.77 L361.09 94.2 L361.13 94.65 L361.18 95.1 L361.22 95.56 L361.26 96.03 L361.3 96.51 L361.33 96.99 L361.37 97.49 L361.4 98 L361.43 98.51 L361.46 99.04 L361.49 99.58 L361.52 100.13 L361.55 100.69 L361.58 101.27 L361.6 101.85 L361.62 102.46 L361.65 103.08 L361.67 103.71 L361.69 104.36 L361.71 105.03 L361.72 105.71 L361.74 106.42 L361.76 107.15 L361.77 107.9 L361.77 108.3" fill="none" stroke="#ff1a1a" stroke-width="1.1" stroke-dasharray="2.5 1.0 0.8 1.0"/>
<path d="M279.02 10.58 L279.91 13.23 L280.81 15.52 L281.69 17.56 L282.57 19.39 L283.44 21.06 L284.3 22.59 L285.16 24 L286.01 25.32 L286.85 26.56 L287.69 27.72 L288.52 28.82 L289.34 29.87 L290.16 30.86 L290.97 31.81 L291.77 32.72 L292.56 33.59 L293.36 34.43 L294.14 35.24 L294.92 36.01 L295.69 36.77 L296.45 37.5 L297.21 38.2 L297.96 38.89 L298.71 39.55 L299.44 40.2 L300.18 40.83 L300.9 41.44 L301.62 42.04 L302.34 42.63 L303.04 43.2 L303.75 43.76 L304.44 44.3 L305.13 44.84 L305.81 45.36 L306.49 45.87 L307.16 46.37 L307.83 46.87 L308.49 47.35 L309.14 47.83 L309.79 48.29 L310.43 48.75 L311.06 49.2 L311.69 49.65 L312.32 50.08 L312.94 50.51 L313.55 50.94 L314.16 51.35 L314.76 51.76 L315.35 52.17 L315.94 52.57 L316.53 52.96 L317.1 53.35 L317.68 53.73 L318.24 54.11 L318.81 54.49 L319.36 54.85 L319.91 55.22 L320.46 55.58 L321 55.93 L321.53 56.29 L322.06 56.63 L322.59 56.98 L323.11 57.32 L323.62 57.65 L324.13 57.99 L324.63 58.31 L325.13 58.64 L325.62 58.96 L326.11 59.28 L326.59 59.6 L327.07 59.91 L327.54 60.22 L328.01 60.53 L328.47 60.84 L328.93 61.14 L329.38 61.44 L329.83 61.73 L330.27 62.03 L330.71 62.32 L331.14 62.61 L331.57 62.9 L331.99 63.18 L332.41 63.47 L332.83 63.75 L333.24 64.03 L333.64 64.3 L334.04 64.58 L334.43 64.85 L334.83 65.12 L335.21 65.39 L335.59 65.66 L335.97 65.93 L336.34 66.19 L336.71 66.45 L337.07 66.71 L337.43 66.97 L337.79 67.23 L338.14 67.49 L338.48 67.74 L338.83 68 L339.16 68.25 L339.5 68.5 L339.83 68.75 L340.15 69 L340.47 69.25 L340.79 69.5 L341.1 69.74 L341.41 69.99 L341.71 70.23 L342.01 70.47 L342.31 70.72 L342.6 70.96 L342.89 71.2 L343.17 71.44 L343.46 71.67 L343.73 71.91 L344.01 72.15 L344.27 72.39 L344.54 72.62 L344.8 72.86 L345.06 73.09 L345.31 73.33 L345.56 73.56 L345.81 73.79 L346.05 74.03 L346.29 74.26 L346.53 74.49 L346.76 74.72 L346.99 74.95 L347.21 75.19 L347.44 75.42 L347.65 75.65 L347.87 75.88 L348.08 76.11 L348.29 76.34 L348.49 76.57 L348.7 76.8 L348.89 77.03 L349.09 77.26 L349.28 77.49 L349.47 77.72 L349.66 77.96 L349.84 78.19 L350.02 78.42 L350.19 78.65 L350.37 78.88 L350.54 79.12 L350.7 79.35 L350.87 79.58 L351.03 79.82 L351.19 80.05 L351.34 80.29 L351.49 80.53 L351.64 80.76 L351.79 81 L351.93 81.24 L352.08 81.48 L352.21 81.72 L352.35 81.96 L352.48 82.2 L352.61 82.44 L352.74 82.69 L352.87 82.93 L352.99 83.18 L353.11 83.43 L353.23 83.68 L353.34 83.93 L353.45 84.18 L353.56 84.43 L353.67 84.69 L353.78 84.94 L353.88 85.2 L353.98 85.46 L354.08 85.73 L354.17 85.99 L354.27 86.26 L354.36 86.52 L354.45 86.79 L354.54 87.07 L354.62 87.34 L354.7 87.62 L354.78 87.9 L354.86 88.18 L354.94 88.46 L355.01 88.75 L355.09 89.04 L355.16 89.34 L355.23 89.63 L355.29 89.93 L355.36 90.24 L355.42 90.54 L355.48 90.85 L355.54 91.17 L355.6 91.49 L355.65 91.81 L355.71 92.13 L355.76 92.46 L355.81 92.8 L355.86 93.14 L355.91 93.48 L355.95 93.83 L356 94.19 L356.04 94.55 L356.08 94.92 L356.12 95.29 L356.16 95.67 L356.2 96.05 L356.23 96.44 L356.27 96.84 L356.3 97.25 L356.33 97.66 L356.36 98.09 L356.39 98.52 L356.42 98.96 L356.45 99.4 L356.47 99.86 L356.5 100.33 L356.52 100.81 L356.54 101.3 L356.56 101.8 L356.58 102.32 L356.6 102.85 L356.62 103.39 L356.64 103.94 L356.65 104.52 L356.67 105.11 L356.68 105.71 L356.7 106.34 L356.71 106.98 L356.72 107.65 L356.72 108.3" fill="none" stroke="#ff1a1a" stroke-width="1.1"/>
</g>
<rect x="282.45" y="35.5" width="206" height="69.8" fill="none" stroke="#1c1c1c" stroke-width="0.85"/>
<path d="M291.03 105.3 v-1.3 M291.03 35.5 v1.3 M299.62 105.3 v-1.3 M299.62 35.5 v1.3 M308.2 105.3 v-1.3 M308.2 35.5 v1.3 M316.78 105.3 v-2.2 M316.78 35.5 v2.2 M325.37 105.3 v-1.3 M325.37 35.5 v1.3 M333.95 105.3 v-1.3 M333.95 35.5 v1.3 M342.53 105.3 v-1.3 M342.53 35.5 v1.3 M351.12 105.3 v-1.3 M351.12 35.5 v1.3 M359.7 105.3 v-2.2 M359.7 35.5 v2.2 M368.28 105.3 v-1.3 M368.28 35.5 v1.3 M376.87 105.3 v-1.3 M376.87 35.5 v1.3 M385.45 105.3 v-1.3 M385.45 35.5 v1.3 M394.03 105.3 v-1.3 M394.03 35.5 v1.3 M402.62 105.3 v-2.2 M402.62 35.5 v2.2 M411.2 105.3 v-1.3 M411.2 35.5 v1.3 M419.78 105.3 v-1.3 M419.78 35.5 v1.3 M428.37 105.3 v-1.3 M428.37 35.5 v1.3 M436.95 105.3 v-1.3 M436.95 35.5 v1.3 M445.53 105.3 v-2.2 M445.53 35.5 v2.2 M454.12 105.3 v-1.3 M454.12 35.5 v1.3 M462.7 105.3 v-1.3 M462.7 35.5 v1.3 M471.28 105.3 v-1.3 M471.28 35.5 v1.3 M479.87 105.3 v-1.3 M479.87 35.5 v1.3 M282.45 36.3 h2.2 M488.45 36.3 h-2.2 M282.45 53.5 h2.2 M488.45 53.5 h-2.2 M282.45 70.7 h2.2 M488.45 70.7 h-2.2 M282.45 87.9 h2.2 M488.45 87.9 h-2.2 M282.45 48.32 h1.3 M488.45 48.32 h-1.3 M282.45 41.48 h1.3 M488.45 41.48 h-1.3 M282.45 65.52 h1.3 M488.45 65.52 h-1.3 M282.45 58.68 h1.3 M488.45 58.68 h-1.3 M282.45 82.72 h1.3 M488.45 82.72 h-1.3 M282.45 75.88 h1.3 M488.45 75.88 h-1.3 M282.45 99.92 h1.3 M488.45 99.92 h-1.3 M282.45 93.08 h1.3 M488.45 93.08 h-1.3" stroke="#1c1c1c" stroke-width="0.6" fill="none"/>
<text x="281.35" y="39.2" font-size="6.8" text-anchor="end" fill="#222">10<tspan dy="-3.1" font-size="4.6">1</tspan></text>
<text x="281.35" y="56.4" font-size="6.8" text-anchor="end" fill="#222">10<tspan dy="-3.1" font-size="4.6">0</tspan></text>
<text x="281.35" y="73.6" font-size="6.8" text-anchor="end" fill="#222">10<tspan dy="-3.1" font-size="4.6">−1</tspan></text>
<text x="281.35" y="90.8" font-size="6.8" text-anchor="end" fill="#222">10<tspan dy="-3.1" font-size="4.6">−2</tspan></text>
<g clip-path="url(#m01)">
<circle cx="290.3" cy="39.6" r="1.6" fill="#000"/>
<circle cx="300.4" cy="41.6" r="1.6" fill="#000"/>
<circle cx="311" cy="44" r="1.6" fill="#000"/>
<circle cx="321.6" cy="46.4" r="1.6" fill="#000"/>
<circle cx="332.4" cy="49.4" r="1.6" fill="#000"/>
<circle cx="343.2" cy="52.1" r="1.6" fill="#000"/>
<circle cx="353.9" cy="56" r="1.6" fill="#000"/>
<circle cx="368.6" cy="61.4" r="1.6" fill="#000"/>
<line x1="389" y1="69.4" x2="389" y2="71.4" stroke="#111" stroke-width="0.8"/>
<circle cx="389" cy="70.4" r="1.6" fill="#000"/>
<line x1="412.8" y1="74.7" x2="412.8" y2="80.7" stroke="#111" stroke-width="0.8"/>
<circle cx="412.8" cy="77.5" r="1.6" fill="#000"/>
<line x1="432.9" y1="76.6" x2="432.9" y2="84.8" stroke="#111" stroke-width="0.8"/>
<circle cx="432.9" cy="80" r="1.6" fill="#000"/>
<line x1="460.4" y1="79.6" x2="460.4" y2="86.4" stroke="#111" stroke-width="0.8"/>
<circle cx="460.4" cy="82.6" r="1.6" fill="#000"/>
</g>
<text x="477.3" y="47.1" font-size="7.8" text-anchor="end" fill="#222" >0.15 &lt; x<tspan dy="0.7" font-size="4.6">F</tspan><tspan dy="-0.7"> &lt; 0.35</tspan></text>
<g clip-path="url(#r01)">
<rect x="282.45" y="155.5" width="206" height="2.9" fill="#c6c6ff"/>
<path d="M282.45 155.5 H488.45" stroke="#1f1fff" stroke-width="1.1" stroke-dasharray="2.9 1.1" fill="none"/>
<path d="M282.45 158.4 H488.45" stroke="#1f1fff" stroke-width="1.1" stroke-dasharray="2.9 1.1" fill="none"/>
<path d="M282.45 156.95 H488.45" stroke="#1f1fff" stroke-width="1.1" fill="none"/>
</g>
<rect x="282.45" y="115.3" width="206" height="45.85" fill="none" stroke="#1c1c1c" stroke-width="0.85"/>
<path d="M291.03 161.15 v-1.3 M291.03 115.3 v1.3 M299.62 161.15 v-1.3 M299.62 115.3 v1.3 M308.2 161.15 v-1.3 M308.2 115.3 v1.3 M316.78 161.15 v-2.2 M316.78 115.3 v2.2 M325.37 161.15 v-1.3 M325.37 115.3 v1.3 M333.95 161.15 v-1.3 M333.95 115.3 v1.3 M342.53 161.15 v-1.3 M342.53 115.3 v1.3 M351.12 161.15 v-1.3 M351.12 115.3 v1.3 M359.7 161.15 v-2.2 M359.7 115.3 v2.2 M368.28 161.15 v-1.3 M368.28 115.3 v1.3 M376.87 161.15 v-1.3 M376.87 115.3 v1.3 M385.45 161.15 v-1.3 M385.45 115.3 v1.3 M394.03 161.15 v-1.3 M394.03 115.3 v1.3 M402.62 161.15 v-2.2 M402.62 115.3 v2.2 M411.2 161.15 v-1.3 M411.2 115.3 v1.3 M419.78 161.15 v-1.3 M419.78 115.3 v1.3 M428.37 161.15 v-1.3 M428.37 115.3 v1.3 M436.95 161.15 v-1.3 M436.95 115.3 v1.3 M445.53 161.15 v-2.2 M445.53 115.3 v2.2 M454.12 161.15 v-1.3 M454.12 115.3 v1.3 M462.7 161.15 v-1.3 M462.7 115.3 v1.3 M471.28 161.15 v-1.3 M471.28 115.3 v1.3 M479.87 161.15 v-1.3 M479.87 115.3 v1.3 M282.45 156.95 h2.2 M488.45 156.95 h-2.2 M282.45 136.12 h2.2 M488.45 136.12 h-2.2 M282.45 152.78 h1.3 M488.45 152.78 h-1.3 M282.45 148.62 h1.3 M488.45 148.62 h-1.3 M282.45 144.45 h1.3 M488.45 144.45 h-1.3 M282.45 140.29 h1.3 M488.45 140.29 h-1.3 M282.45 131.96 h1.3 M488.45 131.96 h-1.3 M282.45 127.79 h1.3 M488.45 127.79 h-1.3 M282.45 123.63 h1.3 M488.45 123.63 h-1.3 M282.45 119.47 h1.3 M488.45 119.47 h-1.3" stroke="#1c1c1c" stroke-width="0.6" fill="none"/>
<text x="281.55" y="159.15" font-size="6.8" text-anchor="end" fill="#222" >0</text>
<text x="281.55" y="138.32" font-size="6.8" text-anchor="end" fill="#222" >5</text>
<text x="281.55" y="116.9" font-size="6.8" text-anchor="end" fill="#222" >10</text>
<g clip-path="url(#r01)">
<circle cx="290.3" cy="159.4" r="1.6" fill="#000"/>
<circle cx="300.3" cy="157.1" r="1.6" fill="#000"/>
<circle cx="311.1" cy="153.9" r="1.6" fill="#000"/>
<circle cx="321.6" cy="149.6" r="1.6" fill="#000"/>
<line x1="332.4" y1="145.2" x2="332.4" y2="147.6" stroke="#111" stroke-width="0.8"/>
<circle cx="332.4" cy="146.4" r="1.6" fill="#000"/>
<line x1="343.2" y1="140.6" x2="343.2" y2="144.6" stroke="#111" stroke-width="0.8"/>
<circle cx="343.2" cy="142.6" r="1.6" fill="#000"/>
<line x1="354" y1="140.1" x2="354" y2="145.1" stroke="#111" stroke-width="0.8"/>
<circle cx="354" cy="142.6" r="1.6" fill="#000"/>
<line x1="368.5" y1="141.3" x2="368.5" y2="146.3" stroke="#111" stroke-width="0.8"/>
<circle cx="368.5" cy="143.8" r="1.6" fill="#000"/>
<line x1="389.1" y1="145.5" x2="389.1" y2="151.5" stroke="#111" stroke-width="0.8"/>
<circle cx="389.1" cy="148.3" r="1.6" fill="#000"/>
<line x1="412.8" y1="144.6" x2="412.8" y2="152.9" stroke="#111" stroke-width="0.8"/>
<circle cx="412.8" cy="148.8" r="1.6" fill="#000"/>
<line x1="432.8" y1="136.4" x2="432.8" y2="150.1" stroke="#111" stroke-width="0.8"/>
<circle cx="432.8" cy="143.8" r="1.6" fill="#000"/>
<line x1="460.4" y1="115.4" x2="460.4" y2="140.5" stroke="#111" stroke-width="0.8"/>
<circle cx="460.4" cy="127.7" r="1.6" fill="#000"/>
</g>
<text x="316.78" y="167.05" font-size="6.8" text-anchor="middle" fill="#222" >1</text>
<text x="359.7" y="167.05" font-size="6.8" text-anchor="middle" fill="#222" >2</text>
<text x="402.62" y="167.05" font-size="6.8" text-anchor="middle" fill="#222" >3</text>
<text x="445.53" y="167.05" font-size="6.8" text-anchor="middle" fill="#222" >4</text>
<text x="488.45" y="167.05" font-size="6.8" text-anchor="middle" fill="#222" >5</text>
<text x="369.25" y="176.95" font-size="7.8" fill="#222">q</text>
<text x="373.65" y="178.45" font-size="5.3" fill="#222">T</text>
<text x="382.05" y="176.95" font-size="7.8" fill="#222">[GeV]</text>
<g clip-path="url(#m10)">
<path d="M38 188.03 L39.29 189.56 L40.58 191.08 L41.87 192.59 L43.16 194.08 L44.45 195.57 L45.74 197.03 L47.03 198.41 L48.32 199.75 L49.61 201.03 L50.9 202.23 L52.19 203.36 L53.48 204.44 L54.77 205.48 L56.06 206.47 L57.35 207.44 L58.64 208.37 L59.93 209.26 L61.22 210.09 L62.51 210.88 L63.81 211.64 L65.1 212.36 L66.39 213.06 L67.68 213.72 L68.97 214.35 L70.26 214.96 L71.55 215.54 L72.84 216.1 L74.13 216.64 L75.42 217.16 L76.71 217.67 L78 218.17 L79.29 218.66 L80.58 219.15 L81.87 219.63 L83.16 220.11 L84.45 220.59 L85.74 221.06 L87.03 221.52 L88.32 221.98 L89.61 222.43 L90.9 222.87 L92.19 223.32 L93.48 223.75 L94.77 224.19 L96.06 224.63 L97.35 225.07 L98.64 225.52 L99.93 225.97 L101.22 226.42 L102.51 226.86 L103.8 227.31 L105.09 227.76 L106.38 228.21 L107.67 228.66 L108.96 229.12 L110.25 229.59 L111.54 230.06 L112.83 230.55 L114.12 231.04 L115.42 231.53 L116.71 232.02 L118 232.5 L119.29 232.97 L120.58 233.43 L121.87 233.88 L123.16 234.33 L124.45 234.78 L125.74 235.23 L127.03 235.67 L128.32 236.12 L129.61 236.56 L130.9 236.99 L132.19 237.43 L133.48 237.86 L134.77 238.29 L136.06 238.71 L137.35 239.13 L138.64 239.55 L139.93 239.96 L141.22 240.37 L142.51 240.78 L143.8 241.18 L145.09 241.58 L146.38 241.97 L147.67 242.36 L148.96 242.74 L150.25 243.12 L151.54 243.49 L152.83 243.86 L154.12 244.23 L155.41 244.59 L156.7 244.95 L157.99 245.31 L159.28 245.67 L160.57 246.02 L161.86 246.36 L163.15 246.71 L164.44 247.05 L165.73 247.39 L167.03 247.73 L168.32 248.06 L169.61 248.39 L170.9 248.72 L172.19 249.04 L173.48 249.37 L174.77 249.69 L176.06 250 L177.35 250.32 L178.64 250.63 L179.93 250.94 L181.22 251.25 L182.51 251.56 L183.8 251.86 L185.09 252.16 L186.38 252.46 L187.67 252.76 L188.96 253.05 L190.25 253.35 L191.54 253.64 L192.83 253.92 L194.12 254.21 L195.41 254.49 L196.7 254.77 L197.99 255.05 L199.28 255.33 L200.57 255.6 L201.86 255.87 L203.15 256.14 L204.44 256.41 L205.73 256.67 L207.02 256.93 L208.31 257.19 L209.6 257.45 L210.89 257.7 L212.18 257.95 L213.47 258.2 L214.76 258.45 L216.05 258.69 L217.34 258.93 L218.64 259.17 L219.93 259.41 L221.22 259.64 L222.51 259.88 L223.8 260.11 L225.09 260.34 L226.38 260.57 L227.67 260.8 L228.96 261.02 L230.25 261.25 L231.54 261.47 L232.83 261.7 L234.12 261.92 L235.41 262.14 L236.7 262.37 L237.99 262.59 L239.28 262.81 L240.57 263.03 L241.86 263.25 L243.15 263.47 L243.15 269.27 L241.86 269.05 L240.57 268.82 L239.28 268.6 L237.99 268.37 L236.7 268.15 L235.41 267.92 L234.12 267.7 L232.83 267.47 L231.54 267.24 L230.25 267.01 L228.96 266.78 L227.67 266.55 L226.38 266.32 L225.09 266.09 L223.8 265.85 L222.51 265.62 L221.22 265.38 L219.93 265.14 L218.64 264.9 L217.34 264.66 L216.05 264.41 L214.76 264.16 L213.47 263.91 L212.18 263.66 L210.89 263.41 L209.6 263.15 L208.31 262.89 L207.02 262.63 L205.73 262.36 L204.44 262.1 L203.15 261.83 L201.86 261.55 L200.57 261.28 L199.28 261 L197.99 260.72 L196.7 260.44 L195.41 260.15 L194.12 259.87 L192.83 259.58 L191.54 259.29 L190.25 258.99 L188.96 258.69 L187.67 258.4 L186.38 258.09 L185.09 257.79 L183.8 257.49 L182.51 257.18 L181.22 256.87 L179.93 256.56 L178.64 256.24 L177.35 255.93 L176.06 255.61 L174.77 255.29 L173.48 254.96 L172.19 254.64 L170.9 254.31 L169.61 253.97 L168.32 253.64 L167.03 253.3 L165.73 252.96 L164.44 252.62 L163.15 252.28 L161.86 251.93 L160.57 251.57 L159.28 251.22 L157.99 250.86 L156.7 250.5 L155.41 250.14 L154.12 249.77 L152.83 249.4 L151.54 249.02 L150.25 248.64 L148.96 248.26 L147.67 247.88 L146.38 247.48 L145.09 247.09 L143.8 246.69 L142.51 246.28 L141.22 245.87 L139.93 245.46 L138.64 245.04 L137.35 244.62 L136.06 244.2 L134.77 243.77 L133.48 243.34 L132.19 242.9 L130.9 242.46 L129.61 242.02 L128.32 241.58 L127.03 241.13 L125.74 240.68 L124.45 240.23 L123.16 239.78 L121.87 239.32 L120.58 238.87 L119.29 238.41 L118 237.94 L116.71 237.45 L115.42 236.96 L114.12 236.46 L112.83 235.97 L111.54 235.48 L110.25 235 L108.96 234.53 L107.67 234.07 L106.38 233.61 L105.09 233.15 L103.8 232.7 L102.51 232.25 L101.22 231.8 L99.93 231.35 L98.64 230.9 L97.35 230.45 L96.06 230 L94.77 229.56 L93.48 229.12 L92.19 228.67 L90.9 228.23 L89.61 227.78 L88.32 227.33 L87.03 226.87 L85.74 226.4 L84.45 225.92 L83.16 225.44 L81.87 224.96 L80.58 224.47 L79.29 223.98 L78 223.49 L76.71 222.99 L75.42 222.47 L74.13 221.94 L72.84 221.4 L71.55 220.83 L70.26 220.25 L68.97 219.64 L67.68 219.01 L66.39 218.34 L65.1 217.64 L63.81 216.91 L62.51 216.15 L61.22 215.36 L59.93 214.52 L58.64 213.63 L57.35 212.7 L56.06 211.73 L54.77 210.73 L53.48 209.69 L52.19 208.61 L50.9 207.47 L49.61 206.27 L48.32 204.98 L47.03 203.64 L45.74 202.25 L44.45 200.79 L43.16 199.29 L41.87 197.8 L40.58 196.29 L39.29 194.76 L38 193.23Z" fill="#c6c6ff" stroke="none"/>
<path d="M38 188.03 L39.29 189.56 L40.58 191.08 L41.87 192.59 L43.16 194.08 L44.45 195.57 L45.74 197.03 L47.03 198.41 L48.32 199.75 L49.61 201.03 L50.9 202.23 L52.19 203.36 L53.48 204.44 L54.77 205.48 L56.06 206.47 L57.35 207.44 L58.64 208.37 L59.93 209.26 L61.22 210.09 L62.51 210.88 L63.81 211.64 L65.1 212.36 L66.39 213.06 L67.68 213.72 L68.97 214.35 L70.26 214.96 L71.55 215.54 L72.84 216.1 L74.13 216.64 L75.42 217.16 L76.71 217.67 L78 218.17 L79.29 218.66 L80.58 219.15 L81.87 219.63 L83.16 220.11 L84.45 220.59 L85.74 221.06 L87.03 221.52 L88.32 221.98 L89.61 222.43 L90.9 222.87 L92.19 223.32 L93.48 223.75 L94.77 224.19 L96.06 224.63 L97.35 225.07 L98.64 225.52 L99.93 225.97 L101.22 226.42 L102.51 226.86 L103.8 227.31 L105.09 227.76 L106.38 228.21 L107.67 228.66 L108.96 229.12 L110.25 229.59 L111.54 230.06 L112.83 230.55 L114.12 231.04 L115.42 231.53 L116.71 232.02 L118 232.5 L119.29 232.97 L120.58 233.43 L121.87 233.88 L123.16 234.33 L124.45 234.78 L125.74 235.23 L127.03 235.67 L128.32 236.12 L129.61 236.56 L130.9 236.99 L132.19 237.43 L133.48 237.86 L134.77 238.29 L136.06 238.71 L137.35 239.13 L138.64 239.55 L139.93 239.96 L141.22 240.37 L142.51 240.78 L143.8 241.18 L145.09 241.58 L146.38 241.97 L147.67 242.36 L148.96 242.74 L150.25 243.12 L151.54 243.49 L152.83 243.86 L154.12 244.23 L155.41 244.59 L156.7 244.95 L157.99 245.31 L159.28 245.67 L160.57 246.02 L161.86 246.36 L163.15 246.71 L164.44 247.05 L165.73 247.39 L167.03 247.73 L168.32 248.06 L169.61 248.39 L170.9 248.72 L172.19 249.04 L173.48 249.37 L174.77 249.69 L176.06 250 L177.35 250.32 L178.64 250.63 L179.93 250.94 L181.22 251.25 L182.51 251.56 L183.8 251.86 L185.09 252.16 L186.38 252.46 L187.67 252.76 L188.96 253.05 L190.25 253.35 L191.54 253.64 L192.83 253.92 L194.12 254.21 L195.41 254.49 L196.7 254.77 L197.99 255.05 L199.28 255.33 L200.57 255.6 L201.86 255.87 L203.15 256.14 L204.44 256.41 L205.73 256.67 L207.02 256.93 L208.31 257.19 L209.6 257.45 L210.89 257.7 L212.18 257.95 L213.47 258.2 L214.76 258.45 L216.05 258.69 L217.34 258.93 L218.64 259.17 L219.93 259.41 L221.22 259.64 L222.51 259.88 L223.8 260.11 L225.09 260.34 L226.38 260.57 L227.67 260.8 L228.96 261.02 L230.25 261.25 L231.54 261.47 L232.83 261.7 L234.12 261.92 L235.41 262.14 L236.7 262.37 L237.99 262.59 L239.28 262.81 L240.57 263.03 L241.86 263.25 L243.15 263.47" fill="none" stroke="#1f1fff" stroke-width="1.1" stroke-dasharray="2.9 1.1"/>
<path d="M38 193.23 L39.29 194.76 L40.58 196.29 L41.87 197.8 L43.16 199.29 L44.45 200.79 L45.74 202.25 L47.03 203.64 L48.32 204.98 L49.61 206.27 L50.9 207.47 L52.19 208.61 L53.48 209.69 L54.77 210.73 L56.06 211.73 L57.35 212.7 L58.64 213.63 L59.93 214.52 L61.22 215.36 L62.51 216.15 L63.81 216.91 L65.1 217.64 L66.39 218.34 L67.68 219.01 L68.97 219.64 L70.26 220.25 L71.55 220.83 L72.84 221.4 L74.13 221.94 L75.42 222.47 L76.71 222.99 L78 223.49 L79.29 223.98 L80.58 224.47 L81.87 224.96 L83.16 225.44 L84.45 225.92 L85.74 226.4 L87.03 226.87 L88.32 227.33 L89.61 227.78 L90.9 228.23 L92.19 228.67 L93.48 229.12 L94.77 229.56 L96.06 230 L97.35 230.45 L98.64 230.9 L99.93 231.35 L101.22 231.8 L102.51 232.25 L103.8 232.7 L105.09 233.15 L106.38 233.61 L107.67 234.07 L108.96 234.53 L110.25 235 L111.54 235.48 L112.83 235.97 L114.12 236.46 L115.42 236.96 L116.71 237.45 L118 237.94 L119.29 238.41 L120.58 238.87 L121.87 239.32 L123.16 239.78 L124.45 240.23 L125.74 240.68 L127.03 241.13 L128.32 241.58 L129.61 242.02 L130.9 242.46 L132.19 242.9 L133.48 243.34 L134.77 243.77 L136.06 244.2 L137.35 244.62 L138.64 245.04 L139.93 245.46 L141.22 245.87 L142.51 246.28 L143.8 246.69 L145.09 247.09 L146.38 247.48 L147.67 247.88 L148.96 248.26 L150.25 248.64 L151.54 249.02 L152.83 249.4 L154.12 249.77 L155.41 250.14 L156.7 250.5 L157.99 250.86 L159.28 251.22 L160.57 251.57 L161.86 251.93 L163.15 252.28 L164.44 252.62 L165.73 252.96 L167.03 253.3 L168.32 253.64 L169.61 253.97 L170.9 254.31 L172.19 254.64 L173.48 254.96 L174.77 255.29 L176.06 255.61 L177.35 255.93 L178.64 256.24 L179.93 256.56 L181.22 256.87 L182.51 257.18 L183.8 257.49 L185.09 257.79 L186.38 258.09 L187.67 258.4 L188.96 258.69 L190.25 258.99 L191.54 259.29 L192.83 259.58 L194.12 259.87 L195.41 260.15 L196.7 260.44 L197.99 260.72 L199.28 261 L200.57 261.28 L201.86 261.55 L203.15 261.83 L204.44 262.1 L205.73 262.36 L207.02 262.63 L208.31 262.89 L209.6 263.15 L210.89 263.41 L212.18 263.66 L213.47 263.91 L214.76 264.16 L216.05 264.41 L217.34 264.66 L218.64 264.9 L219.93 265.14 L221.22 265.38 L222.51 265.62 L223.8 265.85 L225.09 266.09 L226.38 266.32 L227.67 266.55 L228.96 266.78 L230.25 267.01 L231.54 267.24 L232.83 267.47 L234.12 267.7 L235.41 267.92 L236.7 268.15 L237.99 268.37 L239.28 268.6 L240.57 268.82 L241.86 269.05 L243.15 269.27" fill="none" stroke="#1f1fff" stroke-width="1.1" stroke-dasharray="2.9 1.1"/>
<path d="M38 190.63 L39.29 192.16 L40.58 193.68 L41.87 195.19 L43.16 196.69 L44.45 198.18 L45.74 199.64 L47.03 201.02 L48.32 202.37 L49.61 203.65 L50.9 204.85 L52.19 205.98 L53.48 207.07 L54.77 208.1 L56.06 209.1 L57.35 210.07 L58.64 211 L59.93 211.89 L61.22 212.73 L62.51 213.52 L63.81 214.27 L65.1 215 L66.39 215.7 L67.68 216.36 L68.97 217 L70.26 217.6 L71.55 218.19 L72.84 218.75 L74.13 219.29 L75.42 219.82 L76.71 220.33 L78 220.83 L79.29 221.32 L80.58 221.81 L81.87 222.29 L83.16 222.77 L84.45 223.26 L85.74 223.73 L87.03 224.2 L88.32 224.65 L89.61 225.11 L90.9 225.55 L92.19 225.99 L93.48 226.44 L94.77 226.88 L96.06 227.32 L97.35 227.76 L98.64 228.21 L99.93 228.66 L101.22 229.11 L102.51 229.56 L103.8 230.01 L105.09 230.46 L106.38 230.91 L107.67 231.37 L108.96 231.83 L110.25 232.29 L111.54 232.77 L112.83 233.26 L114.12 233.75 L115.42 234.25 L116.71 234.74 L118 235.22 L119.29 235.69 L120.58 236.15 L121.87 236.6 L123.16 237.06 L124.45 237.51 L125.74 237.96 L127.03 238.4 L128.32 238.85 L129.61 239.29 L130.9 239.73 L132.19 240.17 L133.48 240.6 L134.77 241.03 L136.06 241.45 L137.35 241.88 L138.64 242.3 L139.93 242.71 L141.22 243.12 L142.51 243.53 L143.8 243.93 L145.09 244.33 L146.38 244.73 L147.67 245.12 L148.96 245.5 L150.25 245.88 L151.54 246.26 L152.83 246.63 L154.12 247 L155.41 247.36 L156.7 247.73 L157.99 248.09 L159.28 248.44 L160.57 248.8 L161.86 249.15 L163.15 249.49 L164.44 249.84 L165.73 250.18 L167.03 250.51 L168.32 250.85 L169.61 251.18 L170.9 251.51 L172.19 251.84 L173.48 252.16 L174.77 252.49 L176.06 252.8 L177.35 253.12 L178.64 253.44 L179.93 253.75 L181.22 254.06 L182.51 254.37 L183.8 254.67 L185.09 254.98 L186.38 255.28 L187.67 255.58 L188.96 255.87 L190.25 256.17 L191.54 256.46 L192.83 256.75 L194.12 257.04 L195.41 257.32 L196.7 257.61 L197.99 257.89 L199.28 258.17 L200.57 258.44 L201.86 258.71 L203.15 258.99 L204.44 259.25 L205.73 259.52 L207.02 259.78 L208.31 260.04 L209.6 260.3 L210.89 260.56 L212.18 260.81 L213.47 261.06 L214.76 261.31 L216.05 261.55 L217.34 261.79 L218.64 262.04 L219.93 262.27 L221.22 262.51 L222.51 262.75 L223.8 262.98 L225.09 263.21 L226.38 263.45 L227.67 263.68 L228.96 263.9 L230.25 264.13 L231.54 264.36 L232.83 264.58 L234.12 264.81 L235.41 265.03 L236.7 265.26 L237.99 265.48 L239.28 265.7 L240.57 265.93 L241.86 266.15 L243.15 266.37" fill="none" stroke="#1f1fff" stroke-width="1.1"/>
</g>
<g clip-path="url(#m10)">
<path d="M31.72 179.04 L32.41 181.14 L33.09 183.01 L33.77 184.69 L34.45 186.23 L35.11 187.64 L35.78 188.95 L36.44 190.17 L37.09 191.31 L37.74 192.38 L38.38 193.39 L39.02 194.36 L39.65 195.27 L40.28 196.14 L40.9 196.97 L41.52 197.77 L42.13 198.53 L42.74 199.27 L43.34 199.98 L43.94 200.66 L44.53 201.32 L45.12 201.96 L45.7 202.58 L46.28 203.18 L46.85 203.76 L47.42 204.32 L47.98 204.87 L48.54 205.41 L49.09 205.93 L49.64 206.44 L50.19 206.94 L50.73 207.42 L51.26 207.9 L51.79 208.36 L52.32 208.82 L52.84 209.26 L53.35 209.7 L53.86 210.12 L54.37 210.54 L54.87 210.95 L55.37 211.36 L55.86 211.75 L56.35 212.14 L56.84 212.52 L57.31 212.9 L57.79 213.27 L58.26 213.63 L58.73 213.99 L59.19 214.34 L59.65 214.69 L60.1 215.03 L60.55 215.37 L60.99 215.71 L61.43 216.03 L61.87 216.36 L62.3 216.68 L62.73 216.99 L63.15 217.3 L63.57 217.61 L63.99 217.92 L64.4 218.22 L64.81 218.51 L65.21 218.81 L65.61 219.1 L66 219.38 L66.39 219.67 L66.78 219.95 L67.16 220.23 L67.54 220.5 L67.92 220.78 L68.29 221.05 L68.65 221.31 L69.02 221.58 L69.38 221.84 L69.73 222.1 L70.08 222.36 L70.43 222.62 L70.77 222.87 L71.11 223.12 L71.45 223.37 L71.78 223.62 L72.11 223.86 L72.44 224.11 L72.76 224.35 L73.08 224.59 L73.39 224.83 L73.7 225.07 L74.01 225.3 L74.31 225.54 L74.62 225.77 L74.91 226 L75.21 226.23 L75.49 226.46 L75.78 226.68 L76.06 226.91 L76.34 227.13 L76.62 227.36 L76.89 227.58 L77.16 227.8 L77.43 228.02 L77.69 228.24 L77.95 228.46 L78.21 228.68 L78.46 228.89 L78.71 229.11 L78.96 229.32 L79.2 229.54 L79.44 229.75 L79.68 229.96 L79.91 230.17 L80.14 230.38 L80.37 230.59 L80.59 230.8 L80.81 231.01 L81.03 231.22 L81.25 231.43 L81.46 231.64 L81.67 231.84 L81.88 232.05 L82.08 232.26 L82.28 232.46 L82.48 232.67 L82.68 232.88 L82.87 233.08 L83.06 233.29 L83.25 233.49 L83.43 233.7 L83.61 233.9 L83.79 234.11 L83.97 234.31 L84.14 234.51 L84.31 234.72 L84.48 234.92 L84.64 235.13 L84.8 235.33 L84.96 235.54 L85.12 235.74 L85.28 235.95 L85.43 236.15 L85.58 236.36 L85.73 236.57 L85.87 236.77 L86.01 236.98 L86.16 237.19 L86.29 237.4 L86.43 237.6 L86.56 237.81 L86.69 238.02 L86.82 238.23 L86.95 238.44 L87.07 238.65 L87.19 238.87 L87.31 239.08 L87.43 239.29 L87.54 239.51 L87.66 239.72 L87.77 239.94 L87.88 240.16 L87.98 240.38 L88.09 240.59 L88.19 240.82 L88.29 241.04 L88.39 241.26 L88.48 241.48 L88.58 241.71 L88.67 241.94 L88.76 242.16 L88.85 242.39 L88.93 242.62 L89.02 242.86 L89.1 243.09 L89.18 243.33 L89.26 243.57 L89.34 243.81 L89.41 244.05 L89.49 244.29 L89.56 244.54 L89.63 244.78 L89.7 245.03 L89.77 245.29 L89.83 245.54 L89.89 245.8 L89.96 246.06 L90.02 246.32 L90.08 246.58 L90.13 246.85 L90.19 247.12 L90.24 247.39 L90.3 247.67 L90.35 247.95 L90.4 248.23 L90.45 248.52 L90.49 248.81 L90.54 249.1 L90.58 249.4 L90.63 249.7 L90.67 250 L90.71 250.31 L90.75 250.63 L90.79 250.94 L90.82 251.27 L90.86 251.59 L90.89 251.93 L90.92 252.27 L90.96 252.61 L90.99 252.96 L91.02 253.31 L91.04 253.68 L91.07 254.04 L91.1 254.42 L91.12 254.8 L91.15 255.19 L91.17 255.59 L91.19 255.99 L91.21 256.41 L91.24 256.83 L91.25 257.26 L91.27 257.7 L91.29 258.15 L91.31 258.62 L91.32 259.09 L91.34 259.58 L91.35 260.07 L91.37 260.58 L91.38 261.11 L91.39 261.65 L91.4 262.21 L91.42 262.78 L91.43 263.37 L91.44 263.98 L91.44 264.61 L91.45 265.26 L91.46 265.94 L91.47 266.64 L91.47 267.36 L91.48 268.12 L91.49 268.91 L91.49 269.5" fill="none" stroke="#ff1a1a" stroke-width="1.1" stroke-dasharray="2.5 1.0 0.8 1.0"/>
<path d="M31.72 174.14 L32.53 176.65 L33.33 178.85 L34.13 180.8 L34.92 182.56 L35.71 184.15 L36.48 185.62 L37.26 186.97 L38.02 188.23 L38.78 189.41 L39.54 190.51 L40.29 191.56 L41.03 192.54 L41.77 193.48 L42.5 194.37 L43.22 195.22 L43.94 196.03 L44.65 196.81 L45.36 197.55 L46.06 198.27 L46.76 198.96 L47.45 199.63 L48.13 200.28 L48.81 200.9 L49.48 201.51 L50.15 202.09 L50.81 202.66 L51.47 203.22 L52.12 203.75 L52.76 204.28 L53.4 204.79 L54.03 205.29 L54.66 205.77 L55.28 206.25 L55.9 206.71 L56.51 207.16 L57.11 207.61 L57.71 208.04 L58.31 208.46 L58.9 208.88 L59.48 209.29 L60.06 209.69 L60.63 210.08 L61.2 210.47 L61.77 210.85 L62.32 211.22 L62.88 211.59 L63.42 211.95 L63.97 212.31 L64.5 212.66 L65.04 213 L65.56 213.34 L66.08 213.67 L66.6 214 L67.11 214.33 L67.62 214.65 L68.12 214.96 L68.62 215.28 L69.11 215.58 L69.6 215.89 L70.08 216.19 L70.56 216.49 L71.03 216.78 L71.5 217.07 L71.96 217.36 L72.42 217.64 L72.88 217.92 L73.33 218.2 L73.77 218.48 L74.21 218.75 L74.65 219.02 L75.08 219.29 L75.5 219.55 L75.92 219.81 L76.34 220.07 L76.75 220.33 L77.16 220.59 L77.57 220.84 L77.97 221.09 L78.36 221.34 L78.75 221.59 L79.14 221.84 L79.52 222.08 L79.9 222.32 L80.27 222.56 L80.64 222.8 L81 223.04 L81.37 223.28 L81.72 223.51 L82.07 223.75 L82.42 223.98 L82.77 224.21 L83.11 224.44 L83.44 224.67 L83.78 224.9 L84.1 225.12 L84.43 225.35 L84.75 225.57 L85.06 225.79 L85.38 226.02 L85.68 226.24 L85.99 226.46 L86.29 226.68 L86.59 226.9 L86.88 227.11 L87.17 227.33 L87.45 227.55 L87.74 227.77 L88.01 227.98 L88.29 228.2 L88.56 228.41 L88.83 228.62 L89.09 228.84 L89.35 229.05 L89.61 229.26 L89.86 229.48 L90.11 229.69 L90.36 229.9 L90.6 230.11 L90.84 230.32 L91.08 230.54 L91.31 230.75 L91.54 230.96 L91.76 231.17 L91.99 231.38 L92.21 231.59 L92.42 231.8 L92.63 232.01 L92.84 232.22 L93.05 232.43 L93.25 232.65 L93.45 232.86 L93.65 233.07 L93.84 233.28 L94.04 233.49 L94.22 233.71 L94.41 233.92 L94.59 234.13 L94.77 234.35 L94.95 234.56 L95.12 234.78 L95.29 234.99 L95.46 235.21 L95.62 235.42 L95.78 235.64 L95.94 235.86 L96.1 236.08 L96.25 236.3 L96.4 236.52 L96.55 236.74 L96.7 236.96 L96.84 237.18 L96.98 237.41 L97.12 237.63 L97.25 237.86 L97.38 238.09 L97.51 238.31 L97.64 238.54 L97.77 238.77 L97.89 239.01 L98.01 239.24 L98.13 239.47 L98.24 239.71 L98.35 239.95 L98.46 240.19 L98.57 240.43 L98.68 240.67 L98.78 240.92 L98.88 241.16 L98.98 241.41 L99.08 241.66 L99.17 241.91 L99.27 242.16 L99.36 242.42 L99.45 242.68 L99.53 242.94 L99.62 243.2 L99.7 243.47 L99.78 243.73 L99.86 244 L99.94 244.28 L100.01 244.55 L100.08 244.83 L100.15 245.11 L100.22 245.4 L100.29 245.68 L100.36 245.97 L100.42 246.27 L100.48 246.56 L100.54 246.86 L100.6 247.17 L100.66 247.48 L100.71 247.79 L100.77 248.11 L100.82 248.43 L100.87 248.75 L100.92 249.08 L100.97 249.41 L101.01 249.75 L101.06 250.1 L101.1 250.45 L101.14 250.8 L101.18 251.16 L101.22 251.53 L101.26 251.9 L101.29 252.28 L101.33 252.66 L101.36 253.06 L101.39 253.45 L101.42 253.86 L101.45 254.28 L101.48 254.7 L101.51 255.13 L101.54 255.57 L101.56 256.02 L101.58 256.48 L101.61 256.94 L101.63 257.42 L101.65 257.91 L101.67 258.42 L101.69 258.93 L101.71 259.46 L101.72 260 L101.74 260.56 L101.76 261.13 L101.77 261.72 L101.78 262.32 L101.8 262.94 L101.81 263.58 L101.82 264.25 L101.83 264.93 L101.84 265.64 L101.85 266.38 L101.86 267.14 L101.87 267.93 L101.87 268.75 L101.87 269.5" fill="none" stroke="#ff1a1a" stroke-width="1.1" stroke-dasharray="2.5 1.0 0.8 1.0"/>
<path d="M31.72 175.45 L32.47 177.9 L33.21 180.06 L33.95 181.99 L34.68 183.73 L35.41 185.32 L36.13 186.78 L36.85 188.13 L37.56 189.39 L38.26 190.57 L38.96 191.68 L39.65 192.73 L40.34 193.72 L41.02 194.66 L41.7 195.55 L42.37 196.41 L43.04 197.22 L43.7 198.01 L44.35 198.76 L45 199.48 L45.64 200.18 L46.28 200.85 L46.92 201.5 L47.54 202.13 L48.17 202.73 L48.78 203.32 L49.4 203.9 L50 204.45 L50.6 204.99 L51.2 205.52 L51.79 206.03 L52.38 206.53 L52.96 207.01 L53.54 207.49 L54.11 207.95 L54.67 208.4 L55.23 208.85 L55.79 209.28 L56.34 209.7 L56.88 210.12 L57.43 210.53 L57.96 210.93 L58.49 211.32 L59.02 211.7 L59.54 212.08 L60.06 212.45 L60.57 212.82 L61.08 213.17 L61.58 213.53 L62.07 213.87 L62.57 214.21 L63.06 214.55 L63.54 214.88 L64.02 215.21 L64.49 215.53 L64.96 215.84 L65.43 216.16 L65.89 216.46 L66.34 216.77 L66.79 217.07 L67.24 217.36 L67.68 217.65 L68.12 217.94 L68.55 218.23 L68.98 218.51 L69.41 218.79 L69.83 219.06 L70.24 219.34 L70.66 219.61 L71.06 219.87 L71.47 220.14 L71.86 220.4 L72.26 220.66 L72.65 220.91 L73.04 221.17 L73.42 221.42 L73.8 221.67 L74.17 221.91 L74.54 222.16 L74.91 222.4 L75.27 222.64 L75.63 222.88 L75.98 223.12 L76.33 223.35 L76.67 223.58 L77.02 223.82 L77.35 224.05 L77.69 224.27 L78.02 224.5 L78.34 224.73 L78.67 224.95 L78.99 225.17 L79.3 225.39 L79.61 225.61 L79.92 225.83 L80.22 226.05 L80.52 226.26 L80.82 226.48 L81.11 226.69 L81.4 226.91 L81.69 227.12 L81.97 227.33 L82.25 227.54 L82.52 227.75 L82.79 227.95 L83.06 228.16 L83.33 228.37 L83.59 228.57 L83.85 228.78 L84.1 228.98 L84.35 229.19 L84.6 229.39 L84.84 229.59 L85.08 229.8 L85.32 230 L85.56 230.2 L85.79 230.4 L86.01 230.6 L86.24 230.8 L86.46 231 L86.68 231.2 L86.89 231.4 L87.11 231.6 L87.32 231.8 L87.52 231.99 L87.73 232.19 L87.93 232.39 L88.12 232.59 L88.32 232.79 L88.51 232.99 L88.7 233.18 L88.88 233.38 L89.06 233.58 L89.24 233.78 L89.42 233.98 L89.59 234.18 L89.77 234.38 L89.93 234.58 L90.1 234.78 L90.26 234.98 L90.42 235.18 L90.58 235.38 L90.74 235.58 L90.89 235.78 L91.04 235.98 L91.18 236.18 L91.33 236.39 L91.47 236.59 L91.61 236.8 L91.75 237 L91.88 237.21 L92.01 237.41 L92.14 237.62 L92.27 237.83 L92.4 238.04 L92.52 238.25 L92.64 238.46 L92.76 238.67 L92.87 238.88 L92.99 239.1 L93.1 239.31 L93.21 239.53 L93.31 239.75 L93.42 239.97 L93.52 240.19 L93.62 240.41 L93.72 240.63 L93.81 240.86 L93.91 241.08 L94 241.31 L94.09 241.54 L94.18 241.77 L94.26 242.01 L94.35 242.24 L94.43 242.48 L94.51 242.72 L94.59 242.96 L94.67 243.2 L94.74 243.45 L94.81 243.69 L94.88 243.94 L94.95 244.2 L95.02 244.45 L95.09 244.71 L95.15 244.97 L95.21 245.23 L95.27 245.5 L95.33 245.76 L95.39 246.04 L95.45 246.31 L95.5 246.59 L95.55 246.87 L95.6 247.16 L95.65 247.44 L95.7 247.74 L95.75 248.03 L95.79 248.33 L95.84 248.64 L95.88 248.95 L95.92 249.26 L95.96 249.58 L96 249.9 L96.04 250.23 L96.07 250.57 L96.11 250.9 L96.14 251.25 L96.17 251.6 L96.2 251.96 L96.23 252.32 L96.26 252.69 L96.29 253.07 L96.31 253.45 L96.34 253.84 L96.36 254.24 L96.39 254.65 L96.41 255.07 L96.43 255.5 L96.45 255.93 L96.47 256.38 L96.49 256.84 L96.51 257.3 L96.52 257.78 L96.54 258.28 L96.55 258.78 L96.57 259.3 L96.58 259.83 L96.59 260.38 L96.61 260.95 L96.62 261.53 L96.63 262.14 L96.64 262.76 L96.65 263.4 L96.66 264.07 L96.66 264.76 L96.67 265.48 L96.68 266.23 L96.68 267.01 L96.69 267.82 L96.69 268.68 L96.69 269.5" fill="none" stroke="#ff1a1a" stroke-width="1.1"/>
</g>
<rect x="35.15" y="196.5" width="206" height="70" fill="none" stroke="#1c1c1c" stroke-width="0.85"/>
<path d="M43.73 266.5 v-1.3 M43.73 196.5 v1.3 M52.32 266.5 v-1.3 M52.32 196.5 v1.3 M60.9 266.5 v-1.3 M60.9 196.5 v1.3 M69.48 266.5 v-2.2 M69.48 196.5 v2.2 M78.07 266.5 v-1.3 M78.07 196.5 v1.3 M86.65 266.5 v-1.3 M86.65 196.5 v1.3 M95.23 266.5 v-1.3 M95.23 196.5 v1.3 M103.82 266.5 v-1.3 M103.82 196.5 v1.3 M112.4 266.5 v-2.2 M112.4 196.5 v2.2 M120.98 266.5 v-1.3 M120.98 196.5 v1.3 M129.57 266.5 v-1.3 M129.57 196.5 v1.3 M138.15 266.5 v-1.3 M138.15 196.5 v1.3 M146.73 266.5 v-1.3 M146.73 196.5 v1.3 M155.32 266.5 v-2.2 M155.32 196.5 v2.2 M163.9 266.5 v-1.3 M163.9 196.5 v1.3 M172.48 266.5 v-1.3 M172.48 196.5 v1.3 M181.07 266.5 v-1.3 M181.07 196.5 v1.3 M189.65 266.5 v-1.3 M189.65 196.5 v1.3 M198.23 266.5 v-2.2 M198.23 196.5 v2.2 M206.82 266.5 v-1.3 M206.82 196.5 v1.3 M215.4 266.5 v-1.3 M215.4 196.5 v1.3 M223.98 266.5 v-1.3 M223.98 196.5 v1.3 M232.57 266.5 v-1.3 M232.57 196.5 v1.3 M35.15 197.5 h2.2 M241.15 197.5 h-2.2 M35.15 212.95 h2.2 M241.15 212.95 h-2.2 M35.15 228.4 h2.2 M241.15 228.4 h-2.2 M35.15 243.85 h2.2 M241.15 243.85 h-2.2 M35.15 259.3 h2.2 M241.15 259.3 h-2.2 M35.15 208.3 h1.3 M241.15 208.3 h-1.3 M35.15 202.15 h1.3 M241.15 202.15 h-1.3 M35.15 223.75 h1.3 M241.15 223.75 h-1.3 M35.15 217.6 h1.3 M241.15 217.6 h-1.3 M35.15 239.2 h1.3 M241.15 239.2 h-1.3 M35.15 233.05 h1.3 M241.15 233.05 h-1.3 M35.15 254.65 h1.3 M241.15 254.65 h-1.3 M35.15 248.5 h1.3 M241.15 248.5 h-1.3 M35.15 263.95 h1.3 M241.15 263.95 h-1.3" stroke="#1c1c1c" stroke-width="0.6" fill="none"/>
<text x="34.05" y="200.4" font-size="6.8" text-anchor="end" fill="#222">10<tspan dy="-3.1" font-size="4.6">1</tspan></text>
<text x="34.05" y="215.85" font-size="6.8" text-anchor="end" fill="#222">10<tspan dy="-3.1" font-size="4.6">0</tspan></text>
<text x="34.05" y="231.3" font-size="6.8" text-anchor="end" fill="#222">10<tspan dy="-3.1" font-size="4.6">−1</tspan></text>
<text x="34.05" y="246.75" font-size="6.8" text-anchor="end" fill="#222">10<tspan dy="-3.1" font-size="4.6">−2</tspan></text>
<text x="34.05" y="262.2" font-size="6.8" text-anchor="end" fill="#222">10<tspan dy="-3.1" font-size="4.6">−3</tspan></text>
<g clip-path="url(#m10)">
<circle cx="43" cy="203.4" r="1.6" fill="#000"/>
<circle cx="53.4" cy="204.5" r="1.6" fill="#000"/>
<circle cx="64" cy="207.2" r="1.6" fill="#000"/>
<circle cx="74.3" cy="209.5" r="1.6" fill="#000"/>
<circle cx="85.2" cy="212.1" r="1.6" fill="#000"/>
<circle cx="96" cy="215.6" r="1.6" fill="#000"/>
<circle cx="106.6" cy="218.9" r="1.6" fill="#000"/>
<circle cx="121.8" cy="224.9" r="1.6" fill="#000"/>
<circle cx="141.5" cy="232.1" r="1.6" fill="#000"/>
<line x1="166.3" y1="237.4" x2="166.3" y2="242.8" stroke="#111" stroke-width="0.8"/>
<circle cx="166.3" cy="240" r="1.6" fill="#000"/>
<line x1="186.4" y1="241.5" x2="186.4" y2="250.2" stroke="#111" stroke-width="0.8"/>
<circle cx="186.4" cy="245.2" r="1.6" fill="#000"/>
<line x1="215.5" y1="250.2" x2="215.5" y2="259.7" stroke="#111" stroke-width="0.8"/>
<circle cx="215.5" cy="254" r="1.6" fill="#000"/>
</g>
<text x="229.5" y="208.1" font-size="7.8" text-anchor="end" fill="#222" >0.35 &lt; x<tspan dy="0.7" font-size="4.6">F</tspan><tspan dy="-0.7"> &lt; 0.55</tspan></text>
<g clip-path="url(#r10)">
<rect x="35.15" y="315.7" width="206" height="3.8" fill="#c6c6ff"/>
<path d="M35.15 315.7 H241.15" stroke="#1f1fff" stroke-width="1.1" stroke-dasharray="2.9 1.1" fill="none"/>
<path d="M35.15 319.5 H241.15" stroke="#1f1fff" stroke-width="1.1" stroke-dasharray="2.9 1.1" fill="none"/>
<path d="M35.15 317.6 H241.15" stroke="#1f1fff" stroke-width="1.1" fill="none"/>
</g>
<rect x="35.15" y="276.5" width="206" height="45.7" fill="none" stroke="#1c1c1c" stroke-width="0.85"/>
<path d="M43.73 322.2 v-1.3 M43.73 276.5 v1.3 M52.32 322.2 v-1.3 M52.32 276.5 v1.3 M60.9 322.2 v-1.3 M60.9 276.5 v1.3 M69.48 322.2 v-2.2 M69.48 276.5 v2.2 M78.07 322.2 v-1.3 M78.07 276.5 v1.3 M86.65 322.2 v-1.3 M86.65 276.5 v1.3 M95.23 322.2 v-1.3 M95.23 276.5 v1.3 M103.82 322.2 v-1.3 M103.82 276.5 v1.3 M112.4 322.2 v-2.2 M112.4 276.5 v2.2 M120.98 322.2 v-1.3 M120.98 276.5 v1.3 M129.57 322.2 v-1.3 M129.57 276.5 v1.3 M138.15 322.2 v-1.3 M138.15 276.5 v1.3 M146.73 322.2 v-1.3 M146.73 276.5 v1.3 M155.32 322.2 v-2.2 M155.32 276.5 v2.2 M163.9 322.2 v-1.3 M163.9 276.5 v1.3 M172.48 322.2 v-1.3 M172.48 276.5 v1.3 M181.07 322.2 v-1.3 M181.07 276.5 v1.3 M189.65 322.2 v-1.3 M189.65 276.5 v1.3 M198.23 322.2 v-2.2 M198.23 276.5 v2.2 M206.82 322.2 v-1.3 M206.82 276.5 v1.3 M215.4 322.2 v-1.3 M215.4 276.5 v1.3 M223.98 322.2 v-1.3 M223.98 276.5 v1.3 M232.57 322.2 v-1.3 M232.57 276.5 v1.3 M35.15 317.6 h2.2 M241.15 317.6 h-2.2 M35.15 297.05 h2.2 M241.15 297.05 h-2.2 M35.15 313.49 h1.3 M241.15 313.49 h-1.3 M35.15 309.38 h1.3 M241.15 309.38 h-1.3 M35.15 305.27 h1.3 M241.15 305.27 h-1.3 M35.15 301.16 h1.3 M241.15 301.16 h-1.3 M35.15 292.94 h1.3 M241.15 292.94 h-1.3 M35.15 288.83 h1.3 M241.15 288.83 h-1.3 M35.15 284.72 h1.3 M241.15 284.72 h-1.3 M35.15 280.61 h1.3 M241.15 280.61 h-1.3" stroke="#1c1c1c" stroke-width="0.6" fill="none"/>
<text x="34.25" y="319.8" font-size="6.8" text-anchor="end" fill="#222" >0</text>
<text x="34.25" y="299.25" font-size="6.8" text-anchor="end" fill="#222" >5</text>
<text x="34.25" y="278.1" font-size="6.8" text-anchor="end" fill="#222" >10</text>
<g clip-path="url(#r10)">
<circle cx="43" cy="320.6" r="1.6" fill="#000"/>
<circle cx="53.7" cy="316" r="1.6" fill="#000"/>
<circle cx="63.9" cy="312" r="1.6" fill="#000"/>
<circle cx="74.6" cy="306.1" r="1.6" fill="#000"/>
<line x1="85.4" y1="298.4" x2="85.4" y2="302.4" stroke="#111" stroke-width="0.8"/>
<circle cx="85.4" cy="300.4" r="1.6" fill="#000"/>
<line x1="96.1" y1="295" x2="96.1" y2="300" stroke="#111" stroke-width="0.8"/>
<circle cx="96.1" cy="297.5" r="1.6" fill="#000"/>
<line x1="106.8" y1="292.9" x2="106.8" y2="298.9" stroke="#111" stroke-width="0.8"/>
<circle cx="106.8" cy="295.9" r="1.6" fill="#000"/>
<line x1="121.8" y1="297.4" x2="121.8" y2="303.4" stroke="#111" stroke-width="0.8"/>
<circle cx="121.8" cy="300.4" r="1.6" fill="#000"/>
<line x1="141.7" y1="301.1" x2="141.7" y2="307.9" stroke="#111" stroke-width="0.8"/>
<circle cx="141.7" cy="304.4" r="1.6" fill="#000"/>
<line x1="166.2" y1="300.8" x2="166.2" y2="311.7" stroke="#111" stroke-width="0.8"/>
<circle cx="166.2" cy="306.5" r="1.6" fill="#000"/>
<line x1="186.5" y1="299.8" x2="186.5" y2="315.2" stroke="#111" stroke-width="0.8"/>
<circle cx="186.5" cy="307.1" r="1.6" fill="#000"/>
<line x1="215.6" y1="303.8" x2="215.6" y2="318" stroke="#111" stroke-width="0.8"/>
<circle cx="215.6" cy="311.2" r="1.6" fill="#000"/>
</g>
<text x="69.48" y="328.1" font-size="6.8" text-anchor="middle" fill="#222" >1</text>
<text x="112.4" y="328.1" font-size="6.8" text-anchor="middle" fill="#222" >2</text>
<text x="155.32" y="328.1" font-size="6.8" text-anchor="middle" fill="#222" >3</text>
<text x="198.23" y="328.1" font-size="6.8" text-anchor="middle" fill="#222" >4</text>
<text x="241.15" y="328.1" font-size="6.8" text-anchor="middle" fill="#222" >5</text>
<text x="121.95" y="338" font-size="7.8" fill="#222">q</text>
<text x="126.35" y="339.5" font-size="5.3" fill="#222">T</text>
<text x="134.75" y="338" font-size="7.8" fill="#222">[GeV]</text>
<g clip-path="url(#m11)">
<path d="M280 190.36 L281.32 192.44 L282.65 194.4 L283.97 196.25 L285.29 198 L286.62 199.61 L287.94 201.11 L289.27 202.51 L290.59 203.82 L291.91 205.02 L293.24 206.17 L294.56 207.28 L295.88 208.34 L297.21 209.37 L298.53 210.35 L299.85 211.29 L301.18 212.2 L302.5 213.06 L303.82 213.88 L305.15 214.67 L306.47 215.43 L307.8 216.16 L309.12 216.86 L310.44 217.54 L311.77 218.2 L313.09 218.84 L314.41 219.48 L315.74 220.09 L317.06 220.7 L318.38 221.29 L319.71 221.86 L321.03 222.42 L322.35 222.96 L323.68 223.48 L325 223.99 L326.33 224.48 L327.65 224.95 L328.97 225.4 L330.3 225.83 L331.62 226.25 L332.94 226.66 L334.27 227.07 L335.59 227.48 L336.91 227.89 L338.24 228.3 L339.56 228.73 L340.88 229.17 L342.21 229.61 L343.53 230.06 L344.86 230.51 L346.18 230.97 L347.5 231.42 L348.83 231.88 L350.15 232.35 L351.47 232.81 L352.8 233.27 L354.12 233.73 L355.44 234.19 L356.77 234.64 L358.09 235.1 L359.42 235.54 L360.74 235.99 L362.06 236.43 L363.39 236.86 L364.71 237.28 L366.03 237.7 L367.36 238.12 L368.68 238.53 L370 238.94 L371.33 239.35 L372.65 239.76 L373.97 240.16 L375.3 240.56 L376.62 240.96 L377.95 241.35 L379.27 241.74 L380.59 242.13 L381.92 242.52 L383.24 242.91 L384.56 243.29 L385.89 243.67 L387.21 244.05 L388.53 244.43 L389.86 244.81 L391.18 245.19 L392.5 245.56 L393.83 245.93 L395.15 246.31 L396.48 246.68 L397.8 247.05 L399.12 247.42 L400.45 247.79 L401.77 248.16 L403.09 248.53 L404.42 248.9 L405.74 249.27 L407.06 249.63 L408.39 250 L409.71 250.36 L411.03 250.72 L412.36 251.07 L413.68 251.42 L415.01 251.77 L416.33 252.11 L417.65 252.45 L418.98 252.79 L420.3 253.12 L421.62 253.44 L422.95 253.76 L424.27 254.08 L425.59 254.39 L426.92 254.69 L428.24 254.99 L429.57 255.3 L430.89 255.59 L432.21 255.89 L433.54 256.18 L434.86 256.47 L436.18 256.75 L437.51 257.04 L438.83 257.32 L440.15 257.59 L441.48 257.87 L442.8 258.14 L444.12 258.4 L445.45 258.66 L446.77 258.92 L448.1 259.18 L449.42 259.43 L450.74 259.67 L452.07 259.91 L453.39 260.15 L454.71 260.38 L456.04 260.61 L457.36 260.83 L458.68 261.04 L460.01 261.24 L461.33 261.44 L462.65 261.64 L463.98 261.83 L465.3 262.02 L466.63 262.21 L467.95 262.4 L469.27 262.59 L470.6 262.78 L471.92 262.98 L473.24 263.19 L474.57 263.4 L475.89 263.62 L477.21 263.85 L478.54 264.08 L479.86 264.32 L481.18 264.56 L482.51 264.81 L483.83 265.06 L485.16 265.31 L486.48 265.57 L487.8 265.84 L489.13 266.1 L490.45 266.37 L490.45 273.57 L489.13 273.29 L487.8 273.02 L486.48 272.74 L485.16 272.47 L483.83 272.21 L482.51 271.95 L481.18 271.69 L479.86 271.44 L478.54 271.19 L477.21 270.95 L475.89 270.71 L474.57 270.48 L473.24 270.26 L471.92 270.04 L470.6 269.83 L469.27 269.63 L467.95 269.43 L466.63 269.23 L465.3 269.03 L463.98 268.83 L462.65 268.63 L461.33 268.42 L460.01 268.21 L458.68 268 L457.36 267.78 L456.04 267.55 L454.71 267.31 L453.39 267.07 L452.07 266.82 L450.74 266.57 L449.42 266.31 L448.1 266.05 L446.77 265.79 L445.45 265.52 L444.12 265.25 L442.8 264.97 L441.48 264.69 L440.15 264.41 L438.83 264.12 L437.51 263.83 L436.18 263.54 L434.86 263.25 L433.54 262.95 L432.21 262.64 L430.89 262.34 L429.57 262.03 L428.24 261.72 L426.92 261.41 L425.59 261.09 L424.27 260.78 L422.95 260.45 L421.62 260.12 L420.3 259.79 L418.98 259.45 L417.65 259.1 L416.33 258.75 L415.01 258.4 L413.68 258.04 L412.36 257.68 L411.03 257.31 L409.71 256.94 L408.39 256.57 L407.06 256.2 L405.74 255.82 L404.42 255.45 L403.09 255.07 L401.77 254.69 L400.45 254.31 L399.12 253.93 L397.8 253.54 L396.48 253.16 L395.15 252.78 L393.83 252.4 L392.5 252.02 L391.18 251.63 L389.86 251.25 L388.53 250.86 L387.21 250.47 L385.89 250.08 L384.56 249.69 L383.24 249.29 L381.92 248.9 L380.59 248.5 L379.27 248.1 L377.95 247.69 L376.62 247.29 L375.3 246.88 L373.97 246.47 L372.65 246.06 L371.33 245.65 L370 245.23 L368.68 244.81 L367.36 244.38 L366.03 243.96 L364.71 243.53 L363.39 243.09 L362.06 242.65 L360.74 242.2 L359.42 241.75 L358.09 241.29 L356.77 240.83 L355.44 240.36 L354.12 239.89 L352.8 239.42 L351.47 238.95 L350.15 238.48 L348.83 238.01 L347.5 237.54 L346.18 237.07 L344.86 236.6 L343.53 236.14 L342.21 235.68 L340.88 235.23 L339.56 234.78 L338.24 234.34 L336.91 233.92 L335.59 233.5 L334.27 233.08 L332.94 232.66 L331.62 232.24 L330.3 231.81 L328.97 231.37 L327.65 230.91 L326.33 230.43 L325 229.93 L323.68 229.42 L322.35 228.88 L321.03 228.33 L319.71 227.76 L318.38 227.18 L317.06 226.58 L315.74 225.97 L314.41 225.34 L313.09 224.7 L311.77 224.04 L310.44 223.37 L309.12 222.68 L307.8 221.97 L306.47 221.23 L305.15 220.47 L303.82 219.67 L302.5 218.83 L301.18 217.96 L299.85 217.05 L298.53 216.09 L297.21 215.1 L295.88 214.07 L294.56 212.99 L293.24 211.87 L291.91 210.71 L290.59 209.5 L289.27 208.18 L287.94 206.77 L286.62 205.26 L285.29 203.64 L283.97 201.88 L282.65 200.02 L281.32 198.05 L280 195.96Z" fill="#c6c6ff" stroke="none"/>
<path d="M280 190.36 L281.32 192.44 L282.65 194.4 L283.97 196.25 L285.29 198 L286.62 199.61 L287.94 201.11 L289.27 202.51 L290.59 203.82 L291.91 205.02 L293.24 206.17 L294.56 207.28 L295.88 208.34 L297.21 209.37 L298.53 210.35 L299.85 211.29 L301.18 212.2 L302.5 213.06 L303.82 213.88 L305.15 214.67 L306.47 215.43 L307.8 216.16 L309.12 216.86 L310.44 217.54 L311.77 218.2 L313.09 218.84 L314.41 219.48 L315.74 220.09 L317.06 220.7 L318.38 221.29 L319.71 221.86 L321.03 222.42 L322.35 222.96 L323.68 223.48 L325 223.99 L326.33 224.48 L327.65 224.95 L328.97 225.4 L330.3 225.83 L331.62 226.25 L332.94 226.66 L334.27 227.07 L335.59 227.48 L336.91 227.89 L338.24 228.3 L339.56 228.73 L340.88 229.17 L342.21 229.61 L343.53 230.06 L344.86 230.51 L346.18 230.97 L347.5 231.42 L348.83 231.88 L350.15 232.35 L351.47 232.81 L352.8 233.27 L354.12 233.73 L355.44 234.19 L356.77 234.64 L358.09 235.1 L359.42 235.54 L360.74 235.99 L362.06 236.43 L363.39 236.86 L364.71 237.28 L366.03 237.7 L367.36 238.12 L368.68 238.53 L370 238.94 L371.33 239.35 L372.65 239.76 L373.97 240.16 L375.3 240.56 L376.62 240.96 L377.95 241.35 L379.27 241.74 L380.59 242.13 L381.92 242.52 L383.24 242.91 L384.56 243.29 L385.89 243.67 L387.21 244.05 L388.53 244.43 L389.86 244.81 L391.18 245.19 L392.5 245.56 L393.83 245.93 L395.15 246.31 L396.48 246.68 L397.8 247.05 L399.12 247.42 L400.45 247.79 L401.77 248.16 L403.09 248.53 L404.42 248.9 L405.74 249.27 L407.06 249.63 L408.39 250 L409.71 250.36 L411.03 250.72 L412.36 251.07 L413.68 251.42 L415.01 251.77 L416.33 252.11 L417.65 252.45 L418.98 252.79 L420.3 253.12 L421.62 253.44 L422.95 253.76 L424.27 254.08 L425.59 254.39 L426.92 254.69 L428.24 254.99 L429.57 255.3 L430.89 255.59 L432.21 255.89 L433.54 256.18 L434.86 256.47 L436.18 256.75 L437.51 257.04 L438.83 257.32 L440.15 257.59 L441.48 257.87 L442.8 258.14 L444.12 258.4 L445.45 258.66 L446.77 258.92 L448.1 259.18 L449.42 259.43 L450.74 259.67 L452.07 259.91 L453.39 260.15 L454.71 260.38 L456.04 260.61 L457.36 260.83 L458.68 261.04 L460.01 261.24 L461.33 261.44 L462.65 261.64 L463.98 261.83 L465.3 262.02 L466.63 262.21 L467.95 262.4 L469.27 262.59 L470.6 262.78 L471.92 262.98 L473.24 263.19 L474.57 263.4 L475.89 263.62 L477.21 263.85 L478.54 264.08 L479.86 264.32 L481.18 264.56 L482.51 264.81 L483.83 265.06 L485.16 265.31 L486.48 265.57 L487.8 265.84 L489.13 266.1 L490.45 266.37" fill="none" stroke="#1f1fff" stroke-width="1.1" stroke-dasharray="2.9 1.1"/>
<path d="M280 195.96 L281.32 198.05 L282.65 200.02 L283.97 201.88 L285.29 203.64 L286.62 205.26 L287.94 206.77 L289.27 208.18 L290.59 209.5 L291.91 210.71 L293.24 211.87 L294.56 212.99 L295.88 214.07 L297.21 215.1 L298.53 216.09 L299.85 217.05 L301.18 217.96 L302.5 218.83 L303.82 219.67 L305.15 220.47 L306.47 221.23 L307.8 221.97 L309.12 222.68 L310.44 223.37 L311.77 224.04 L313.09 224.7 L314.41 225.34 L315.74 225.97 L317.06 226.58 L318.38 227.18 L319.71 227.76 L321.03 228.33 L322.35 228.88 L323.68 229.42 L325 229.93 L326.33 230.43 L327.65 230.91 L328.97 231.37 L330.3 231.81 L331.62 232.24 L332.94 232.66 L334.27 233.08 L335.59 233.5 L336.91 233.92 L338.24 234.34 L339.56 234.78 L340.88 235.23 L342.21 235.68 L343.53 236.14 L344.86 236.6 L346.18 237.07 L347.5 237.54 L348.83 238.01 L350.15 238.48 L351.47 238.95 L352.8 239.42 L354.12 239.89 L355.44 240.36 L356.77 240.83 L358.09 241.29 L359.42 241.75 L360.74 242.2 L362.06 242.65 L363.39 243.09 L364.71 243.53 L366.03 243.96 L367.36 244.38 L368.68 244.81 L370 245.23 L371.33 245.65 L372.65 246.06 L373.97 246.47 L375.3 246.88 L376.62 247.29 L377.95 247.69 L379.27 248.1 L380.59 248.5 L381.92 248.9 L383.24 249.29 L384.56 249.69 L385.89 250.08 L387.21 250.47 L388.53 250.86 L389.86 251.25 L391.18 251.63 L392.5 252.02 L393.83 252.4 L395.15 252.78 L396.48 253.16 L397.8 253.54 L399.12 253.93 L400.45 254.31 L401.77 254.69 L403.09 255.07 L404.42 255.45 L405.74 255.82 L407.06 256.2 L408.39 256.57 L409.71 256.94 L411.03 257.31 L412.36 257.68 L413.68 258.04 L415.01 258.4 L416.33 258.75 L417.65 259.1 L418.98 259.45 L420.3 259.79 L421.62 260.12 L422.95 260.45 L424.27 260.78 L425.59 261.09 L426.92 261.41 L428.24 261.72 L429.57 262.03 L430.89 262.34 L432.21 262.64 L433.54 262.95 L434.86 263.25 L436.18 263.54 L437.51 263.83 L438.83 264.12 L440.15 264.41 L441.48 264.69 L442.8 264.97 L444.12 265.25 L445.45 265.52 L446.77 265.79 L448.1 266.05 L449.42 266.31 L450.74 266.57 L452.07 266.82 L453.39 267.07 L454.71 267.31 L456.04 267.55 L457.36 267.78 L458.68 268 L460.01 268.21 L461.33 268.42 L462.65 268.63 L463.98 268.83 L465.3 269.03 L466.63 269.23 L467.95 269.43 L469.27 269.63 L470.6 269.83 L471.92 270.04 L473.24 270.26 L474.57 270.48 L475.89 270.71 L477.21 270.95 L478.54 271.19 L479.86 271.44 L481.18 271.69 L482.51 271.95 L483.83 272.21 L485.16 272.47 L486.48 272.74 L487.8 273.02 L489.13 273.29 L490.45 273.57" fill="none" stroke="#1f1fff" stroke-width="1.1" stroke-dasharray="2.9 1.1"/>
<path d="M280 193.16 L281.32 195.25 L282.65 197.21 L283.97 199.07 L285.29 200.82 L286.62 202.44 L287.94 203.94 L289.27 205.34 L290.59 206.66 L291.91 207.87 L293.24 209.02 L294.56 210.13 L295.88 211.21 L297.21 212.23 L298.53 213.22 L299.85 214.17 L301.18 215.08 L302.5 215.95 L303.82 216.78 L305.15 217.57 L306.47 218.33 L307.8 219.06 L309.12 219.77 L310.44 220.46 L311.77 221.12 L313.09 221.77 L314.41 222.41 L315.74 223.03 L317.06 223.64 L318.38 224.23 L319.71 224.81 L321.03 225.37 L322.35 225.92 L323.68 226.45 L325 226.96 L326.33 227.46 L327.65 227.93 L328.97 228.38 L330.3 228.82 L331.62 229.25 L332.94 229.66 L334.27 230.08 L335.59 230.49 L336.91 230.9 L338.24 231.32 L339.56 231.75 L340.88 232.2 L342.21 232.65 L343.53 233.1 L344.86 233.56 L346.18 234.02 L347.5 234.48 L348.83 234.95 L350.15 235.41 L351.47 235.88 L352.8 236.34 L354.12 236.81 L355.44 237.27 L356.77 237.73 L358.09 238.19 L359.42 238.65 L360.74 239.1 L362.06 239.54 L363.39 239.98 L364.71 240.41 L366.03 240.83 L367.36 241.25 L368.68 241.67 L370 242.09 L371.33 242.5 L372.65 242.91 L373.97 243.32 L375.3 243.72 L376.62 244.12 L377.95 244.52 L379.27 244.92 L380.59 245.32 L381.92 245.71 L383.24 246.1 L384.56 246.49 L385.89 246.88 L387.21 247.26 L388.53 247.65 L389.86 248.03 L391.18 248.41 L392.5 248.79 L393.83 249.17 L395.15 249.54 L396.48 249.92 L397.8 250.3 L399.12 250.67 L400.45 251.05 L401.77 251.43 L403.09 251.8 L404.42 252.17 L405.74 252.55 L407.06 252.92 L408.39 253.28 L409.71 253.65 L411.03 254.01 L412.36 254.37 L413.68 254.73 L415.01 255.08 L416.33 255.43 L417.65 255.78 L418.98 256.12 L420.3 256.45 L421.62 256.78 L422.95 257.11 L424.27 257.43 L425.59 257.74 L426.92 258.05 L428.24 258.36 L429.57 258.66 L430.89 258.97 L432.21 259.27 L433.54 259.56 L434.86 259.86 L436.18 260.15 L437.51 260.44 L438.83 260.72 L440.15 261 L441.48 261.28 L442.8 261.55 L444.12 261.82 L445.45 262.09 L446.77 262.35 L448.1 262.61 L449.42 262.87 L450.74 263.12 L452.07 263.37 L453.39 263.61 L454.71 263.85 L456.04 264.08 L457.36 264.3 L458.68 264.52 L460.01 264.73 L461.33 264.93 L462.65 265.13 L463.98 265.33 L465.3 265.52 L466.63 265.72 L467.95 265.91 L469.27 266.11 L470.6 266.31 L471.92 266.51 L473.24 266.72 L474.57 266.94 L475.89 267.16 L477.21 267.4 L478.54 267.63 L479.86 267.88 L481.18 268.12 L482.51 268.38 L483.83 268.63 L485.16 268.89 L486.48 269.16 L487.8 269.43 L489.13 269.7 L490.45 269.97" fill="none" stroke="#1f1fff" stroke-width="1.1"/>
</g>
<g clip-path="url(#m11)">
<path d="M279.02 193.91 L279.52 195.2 L280.03 196.39 L280.52 197.48 L281.02 198.48 L281.51 199.42 L282 200.29 L282.48 201.11 L282.96 201.89 L283.44 202.62 L283.91 203.31 L284.38 203.97 L284.84 204.6 L285.3 205.2 L285.76 205.78 L286.21 206.33 L286.66 206.86 L287.11 207.37 L287.55 207.86 L287.99 208.34 L288.42 208.8 L288.86 209.24 L289.28 209.67 L289.71 210.09 L290.13 210.49 L290.54 210.89 L290.96 211.27 L291.37 211.65 L291.77 212.01 L292.18 212.36 L292.58 212.71 L292.97 213.05 L293.36 213.38 L293.75 213.7 L294.14 214.02 L294.52 214.33 L294.9 214.64 L295.28 214.93 L295.65 215.23 L296.02 215.51 L296.38 215.8 L296.74 216.07 L297.1 216.35 L297.46 216.62 L297.81 216.88 L298.16 217.14 L298.5 217.4 L298.85 217.65 L299.19 217.9 L299.52 218.14 L299.85 218.39 L300.18 218.63 L300.51 218.86 L300.83 219.1 L301.15 219.33 L301.47 219.55 L301.79 219.78 L302.1 220 L302.4 220.22 L302.71 220.44 L303.01 220.66 L303.31 220.87 L303.61 221.09 L303.9 221.3 L304.19 221.51 L304.47 221.71 L304.76 221.92 L305.04 222.12 L305.32 222.33 L305.59 222.53 L305.87 222.73 L306.13 222.92 L306.4 223.12 L306.66 223.32 L306.93 223.51 L307.18 223.71 L307.44 223.9 L307.69 224.09 L307.94 224.28 L308.19 224.47 L308.43 224.66 L308.67 224.85 L308.91 225.03 L309.15 225.22 L309.38 225.41 L309.61 225.59 L309.84 225.78 L310.07 225.96 L310.29 226.14 L310.51 226.33 L310.73 226.51 L310.94 226.69 L311.16 226.87 L311.37 227.06 L311.58 227.24 L311.78 227.42 L311.98 227.6 L312.18 227.78 L312.38 227.96 L312.58 228.14 L312.77 228.32 L312.96 228.5 L313.15 228.68 L313.33 228.86 L313.52 229.04 L313.7 229.22 L313.88 229.4 L314.05 229.58 L314.23 229.76 L314.4 229.94 L314.57 230.12 L314.74 230.31 L314.9 230.49 L315.06 230.67 L315.22 230.85 L315.38 231.03 L315.54 231.22 L315.69 231.4 L315.84 231.58 L315.99 231.77 L316.14 231.95 L316.29 232.13 L316.43 232.32 L316.57 232.51 L316.71 232.69 L316.85 232.88 L316.98 233.07 L317.12 233.25 L317.25 233.44 L317.38 233.63 L317.5 233.82 L317.63 234.02 L317.75 234.21 L317.87 234.4 L317.99 234.59 L318.11 234.79 L318.23 234.98 L318.34 235.18 L318.45 235.38 L318.56 235.58 L318.67 235.78 L318.78 235.98 L318.88 236.18 L318.98 236.38 L319.08 236.59 L319.18 236.79 L319.28 237 L319.38 237.21 L319.47 237.41 L319.56 237.63 L319.66 237.84 L319.74 238.05 L319.83 238.27 L319.92 238.48 L320 238.7 L320.09 238.92 L320.17 239.14 L320.25 239.36 L320.32 239.59 L320.4 239.82 L320.48 240.04 L320.55 240.27 L320.62 240.51 L320.69 240.74 L320.76 240.98 L320.83 241.21 L320.9 241.45 L320.96 241.7 L321.02 241.94 L321.09 242.19 L321.15 242.44 L321.21 242.69 L321.26 242.95 L321.32 243.2 L321.38 243.46 L321.43 243.72 L321.48 243.99 L321.54 244.26 L321.59 244.53 L321.63 244.8 L321.68 245.08 L321.73 245.36 L321.77 245.64 L321.82 245.93 L321.86 246.22 L321.9 246.52 L321.95 246.81 L321.99 247.12 L322.02 247.42 L322.06 247.73 L322.1 248.04 L322.13 248.36 L322.17 248.69 L322.2 249.01 L322.23 249.34 L322.27 249.68 L322.3 250.02 L322.33 250.37 L322.36 250.72 L322.38 251.08 L322.41 251.44 L322.44 251.81 L322.46 252.19 L322.48 252.57 L322.51 252.96 L322.53 253.36 L322.55 253.76 L322.57 254.17 L322.59 254.59 L322.61 255.02 L322.63 255.45 L322.65 255.9 L322.67 256.35 L322.68 256.81 L322.7 257.28 L322.71 257.77 L322.73 258.26 L322.74 258.77 L322.75 259.28 L322.77 259.81 L322.78 260.36 L322.79 260.91 L322.8 261.49 L322.81 262.07 L322.82 262.68 L322.83 263.3 L322.84 263.94 L322.85 264.6 L322.85 265.28 L322.86 265.98 L322.87 266.71 L322.87 267.46 L322.88 268.23 L322.88 269.04 L322.88 269.5" fill="none" stroke="#ff1a1a" stroke-width="1.1" stroke-dasharray="2.5 1.0 0.8 1.0"/>
<path d="M279.02 184.04 L279.63 186.02 L280.24 187.79 L280.85 189.38 L281.45 190.83 L282.05 192.15 L282.64 193.37 L283.23 194.5 L283.81 195.55 L284.39 196.53 L284.97 197.46 L285.54 198.32 L286.1 199.14 L286.66 199.92 L287.22 200.65 L287.77 201.35 L288.32 202.02 L288.86 202.66 L289.4 203.26 L289.93 203.85 L290.46 204.41 L290.98 204.94 L291.5 205.46 L292.02 205.96 L292.53 206.44 L293.04 206.91 L293.54 207.35 L294.04 207.79 L294.53 208.21 L295.02 208.62 L295.51 209.01 L295.99 209.4 L296.47 209.77 L296.94 210.14 L297.41 210.49 L297.88 210.84 L298.34 211.17 L298.79 211.5 L299.25 211.82 L299.69 212.14 L300.14 212.45 L300.58 212.75 L301.02 213.04 L301.45 213.33 L301.88 213.61 L302.3 213.89 L302.72 214.16 L303.14 214.43 L303.55 214.69 L303.96 214.95 L304.36 215.2 L304.76 215.45 L305.16 215.7 L305.55 215.94 L305.94 216.18 L306.33 216.41 L306.71 216.64 L307.09 216.87 L307.46 217.1 L307.83 217.32 L308.2 217.54 L308.57 217.76 L308.92 217.97 L309.28 218.19 L309.63 218.4 L309.98 218.61 L310.33 218.81 L310.67 219.02 L311.01 219.22 L311.34 219.42 L311.67 219.62 L312 219.82 L312.33 220.02 L312.65 220.21 L312.96 220.4 L313.28 220.6 L313.59 220.79 L313.9 220.98 L314.2 221.17 L314.5 221.36 L314.8 221.54 L315.09 221.73 L315.38 221.91 L315.67 222.1 L315.95 222.28 L316.23 222.46 L316.51 222.65 L316.79 222.83 L317.06 223.01 L317.32 223.19 L317.59 223.37 L317.85 223.55 L318.11 223.73 L318.37 223.91 L318.62 224.09 L318.87 224.27 L319.11 224.45 L319.36 224.63 L319.6 224.81 L319.84 224.98 L320.07 225.16 L320.3 225.34 L320.53 225.52 L320.76 225.7 L320.98 225.88 L321.2 226.06 L321.42 226.24 L321.63 226.42 L321.84 226.6 L322.05 226.78 L322.26 226.96 L322.46 227.14 L322.66 227.32 L322.86 227.5 L323.06 227.68 L323.25 227.87 L323.44 228.05 L323.63 228.23 L323.81 228.42 L323.99 228.6 L324.17 228.79 L324.35 228.98 L324.52 229.16 L324.7 229.35 L324.86 229.54 L325.03 229.73 L325.2 229.92 L325.36 230.11 L325.52 230.3 L325.67 230.5 L325.83 230.69 L325.98 230.88 L326.13 231.08 L326.28 231.28 L326.42 231.48 L326.57 231.68 L326.71 231.88 L326.85 232.08 L326.98 232.28 L327.12 232.49 L327.25 232.69 L327.38 232.9 L327.5 233.11 L327.63 233.32 L327.75 233.53 L327.87 233.74 L327.99 233.96 L328.11 234.17 L328.22 234.39 L328.34 234.61 L328.45 234.83 L328.56 235.05 L328.66 235.28 L328.77 235.5 L328.87 235.73 L328.97 235.96 L329.07 236.19 L329.17 236.43 L329.26 236.66 L329.35 236.9 L329.45 237.14 L329.54 237.38 L329.62 237.63 L329.71 237.87 L329.79 238.12 L329.88 238.37 L329.96 238.63 L330.03 238.88 L330.11 239.14 L330.19 239.41 L330.26 239.67 L330.33 239.94 L330.4 240.21 L330.47 240.48 L330.54 240.76 L330.61 241.04 L330.67 241.32 L330.73 241.61 L330.79 241.9 L330.85 242.19 L330.91 242.48 L330.97 242.78 L331.03 243.09 L331.08 243.39 L331.13 243.71 L331.18 244.02 L331.23 244.34 L331.28 244.66 L331.33 244.99 L331.37 245.32 L331.42 245.66 L331.46 246 L331.5 246.35 L331.54 246.7 L331.58 247.06 L331.62 247.42 L331.66 247.79 L331.7 248.17 L331.73 248.55 L331.76 248.93 L331.8 249.32 L331.83 249.72 L331.86 250.13 L331.89 250.54 L331.92 250.96 L331.94 251.39 L331.97 251.83 L332 252.27 L332.02 252.73 L332.04 253.19 L332.07 253.66 L332.09 254.14 L332.11 254.63 L332.13 255.13 L332.15 255.64 L332.17 256.17 L332.18 256.7 L332.2 257.25 L332.22 257.81 L332.23 258.39 L332.25 258.98 L332.26 259.58 L332.27 260.2 L332.29 260.84 L332.3 261.49 L332.31 262.17 L332.32 262.86 L332.33 263.58 L332.34 264.32 L332.35 265.08 L332.35 265.87 L332.36 266.68 L332.37 267.53 L332.37 268.41 L332.38 269.32 L332.38 269.5" fill="none" stroke="#ff1a1a" stroke-width="1.1" stroke-dasharray="2.5 1.0 0.8 1.0"/>
<path d="M279.02 190.35 L279.58 191.83 L280.14 193.18 L280.69 194.4 L281.24 195.53 L281.78 196.58 L282.32 197.55 L282.86 198.46 L283.39 199.31 L283.92 200.12 L284.44 200.88 L284.96 201.6 L285.48 202.29 L285.99 202.95 L286.5 203.58 L287 204.18 L287.5 204.76 L287.99 205.31 L288.48 205.84 L288.97 206.36 L289.45 206.86 L289.93 207.34 L290.41 207.8 L290.88 208.26 L291.34 208.69 L291.8 209.12 L292.26 209.53 L292.72 209.93 L293.17 210.33 L293.62 210.71 L294.06 211.08 L294.5 211.44 L294.93 211.8 L295.36 212.15 L295.79 212.49 L296.22 212.82 L296.64 213.15 L297.05 213.46 L297.47 213.78 L297.87 214.08 L298.28 214.39 L298.68 214.68 L299.08 214.97 L299.47 215.26 L299.86 215.54 L300.25 215.82 L300.63 216.09 L301.01 216.36 L301.39 216.62 L301.76 216.88 L302.13 217.14 L302.5 217.39 L302.86 217.64 L303.22 217.89 L303.57 218.13 L303.93 218.37 L304.27 218.61 L304.62 218.84 L304.96 219.08 L305.3 219.3 L305.63 219.53 L305.97 219.76 L306.29 219.98 L306.62 220.2 L306.94 220.42 L307.26 220.63 L307.57 220.85 L307.88 221.06 L308.19 221.27 L308.5 221.48 L308.8 221.69 L309.1 221.89 L309.39 222.1 L309.69 222.3 L309.98 222.5 L310.26 222.7 L310.55 222.9 L310.83 223.09 L311.1 223.29 L311.38 223.49 L311.65 223.68 L311.92 223.87 L312.18 224.06 L312.44 224.25 L312.7 224.44 L312.96 224.63 L313.21 224.82 L313.46 225.01 L313.71 225.19 L313.95 225.38 L314.2 225.56 L314.43 225.75 L314.67 225.93 L314.9 226.12 L315.13 226.3 L315.36 226.48 L315.59 226.66 L315.81 226.84 L316.03 227.02 L316.24 227.21 L316.46 227.39 L316.67 227.57 L316.88 227.74 L317.08 227.92 L317.29 228.1 L317.49 228.28 L317.69 228.46 L317.88 228.64 L318.08 228.82 L318.27 229 L318.45 229.18 L318.64 229.35 L318.82 229.53 L319 229.71 L319.18 229.89 L319.36 230.07 L319.53 230.25 L319.7 230.43 L319.87 230.61 L320.04 230.79 L320.2 230.97 L320.36 231.15 L320.52 231.33 L320.68 231.51 L320.83 231.69 L320.98 231.87 L321.13 232.05 L321.28 232.24 L321.43 232.42 L321.57 232.6 L321.71 232.79 L321.85 232.97 L321.99 233.16 L322.12 233.34 L322.25 233.53 L322.38 233.71 L322.51 233.9 L322.64 234.09 L322.76 234.28 L322.88 234.47 L323 234.66 L323.12 234.85 L323.24 235.05 L323.35 235.24 L323.46 235.43 L323.57 235.63 L323.68 235.83 L323.79 236.02 L323.89 236.22 L324 236.42 L324.1 236.62 L324.2 236.83 L324.29 237.03 L324.39 237.23 L324.48 237.44 L324.57 237.65 L324.66 237.86 L324.75 238.07 L324.84 238.28 L324.92 238.49 L325.01 238.71 L325.09 238.92 L325.17 239.14 L325.25 239.36 L325.32 239.58 L325.4 239.8 L325.47 240.03 L325.55 240.26 L325.62 240.49 L325.68 240.72 L325.75 240.95 L325.82 241.19 L325.88 241.42 L325.95 241.66 L326.01 241.91 L326.07 242.15 L326.13 242.4 L326.18 242.65 L326.24 242.9 L326.29 243.15 L326.35 243.41 L326.4 243.67 L326.45 243.94 L326.5 244.2 L326.55 244.47 L326.59 244.75 L326.64 245.02 L326.68 245.3 L326.73 245.59 L326.77 245.87 L326.81 246.16 L326.85 246.46 L326.89 246.76 L326.92 247.06 L326.96 247.37 L326.99 247.68 L327.03 247.99 L327.06 248.32 L327.09 248.64 L327.12 248.97 L327.15 249.31 L327.18 249.65 L327.21 250 L327.24 250.35 L327.26 250.71 L327.29 251.07 L327.31 251.45 L327.33 251.82 L327.36 252.21 L327.38 252.6 L327.4 253 L327.42 253.41 L327.44 253.83 L327.46 254.26 L327.47 254.69 L327.49 255.14 L327.51 255.59 L327.52 256.06 L327.54 256.53 L327.55 257.02 L327.56 257.52 L327.57 258.03 L327.59 258.56 L327.6 259.1 L327.61 259.65 L327.62 260.22 L327.63 260.81 L327.64 261.42 L327.65 262.04 L327.65 262.69 L327.66 263.36 L327.67 264.05 L327.67 264.76 L327.68 265.5 L327.68 266.27 L327.69 267.08 L327.69 267.91 L327.7 268.78 L327.7 269.5" fill="none" stroke="#ff1a1a" stroke-width="1.1"/>
</g>
<rect x="282.45" y="196.5" width="206" height="70" fill="none" stroke="#1c1c1c" stroke-width="0.85"/>
<path d="M291.03 266.5 v-1.3 M291.03 196.5 v1.3 M299.62 266.5 v-1.3 M299.62 196.5 v1.3 M308.2 266.5 v-1.3 M308.2 196.5 v1.3 M316.78 266.5 v-2.2 M316.78 196.5 v2.2 M325.37 266.5 v-1.3 M325.37 196.5 v1.3 M333.95 266.5 v-1.3 M333.95 196.5 v1.3 M342.53 266.5 v-1.3 M342.53 196.5 v1.3 M351.12 266.5 v-1.3 M351.12 196.5 v1.3 M359.7 266.5 v-2.2 M359.7 196.5 v2.2 M368.28 266.5 v-1.3 M368.28 196.5 v1.3 M376.87 266.5 v-1.3 M376.87 196.5 v1.3 M385.45 266.5 v-1.3 M385.45 196.5 v1.3 M394.03 266.5 v-1.3 M394.03 196.5 v1.3 M402.62 266.5 v-2.2 M402.62 196.5 v2.2 M411.2 266.5 v-1.3 M411.2 196.5 v1.3 M419.78 266.5 v-1.3 M419.78 196.5 v1.3 M428.37 266.5 v-1.3 M428.37 196.5 v1.3 M436.95 266.5 v-1.3 M436.95 196.5 v1.3 M445.53 266.5 v-2.2 M445.53 196.5 v2.2 M454.12 266.5 v-1.3 M454.12 196.5 v1.3 M462.7 266.5 v-1.3 M462.7 196.5 v1.3 M471.28 266.5 v-1.3 M471.28 196.5 v1.3 M479.87 266.5 v-1.3 M479.87 196.5 v1.3 M282.45 197.5 h2.2 M488.45 197.5 h-2.2 M282.45 210.05 h2.2 M488.45 210.05 h-2.2 M282.45 222.6 h2.2 M488.45 222.6 h-2.2 M282.45 235.15 h2.2 M488.45 235.15 h-2.2 M282.45 247.7 h2.2 M488.45 247.7 h-2.2 M282.45 260.25 h2.2 M488.45 260.25 h-2.2 M282.45 206.27 h1.3 M488.45 206.27 h-1.3 M282.45 201.28 h1.3 M488.45 201.28 h-1.3 M282.45 218.82 h1.3 M488.45 218.82 h-1.3 M282.45 213.83 h1.3 M488.45 213.83 h-1.3 M282.45 231.37 h1.3 M488.45 231.37 h-1.3 M282.45 226.38 h1.3 M488.45 226.38 h-1.3 M282.45 243.92 h1.3 M488.45 243.92 h-1.3 M282.45 238.93 h1.3 M488.45 238.93 h-1.3 M282.45 256.47 h1.3 M488.45 256.47 h-1.3 M282.45 251.48 h1.3 M488.45 251.48 h-1.3 M282.45 264.03 h1.3 M488.45 264.03 h-1.3" stroke="#1c1c1c" stroke-width="0.6" fill="none"/>
<text x="281.35" y="200.4" font-size="6.8" text-anchor="end" fill="#222">10<tspan dy="-3.1" font-size="4.6">1</tspan></text>
<text x="281.35" y="212.95" font-size="6.8" text-anchor="end" fill="#222">10<tspan dy="-3.1" font-size="4.6">0</tspan></text>
<text x="281.35" y="225.5" font-size="6.8" text-anchor="end" fill="#222">10<tspan dy="-3.1" font-size="4.6">−1</tspan></text>
<text x="281.35" y="238.05" font-size="6.8" text-anchor="end" fill="#222">10<tspan dy="-3.1" font-size="4.6">−2</tspan></text>
<text x="281.35" y="250.6" font-size="6.8" text-anchor="end" fill="#222">10<tspan dy="-3.1" font-size="4.6">−3</tspan></text>
<text x="281.35" y="263.15" font-size="6.8" text-anchor="end" fill="#222">10<tspan dy="-3.1" font-size="4.6">−4</tspan></text>
<g clip-path="url(#m11)">
<circle cx="290" cy="209.2" r="1.6" fill="#000"/>
<circle cx="300.7" cy="210.8" r="1.6" fill="#000"/>
<circle cx="311" cy="212.6" r="1.6" fill="#000"/>
<circle cx="321.6" cy="215" r="1.6" fill="#000"/>
<circle cx="332.1" cy="217.3" r="1.6" fill="#000"/>
<circle cx="342.8" cy="221.1" r="1.6" fill="#000"/>
<circle cx="354.3" cy="224.6" r="1.6" fill="#000"/>
<circle cx="366.7" cy="229.2" r="1.6" fill="#000"/>
<line x1="390.7" y1="235.4" x2="390.7" y2="241.4" stroke="#111" stroke-width="0.8"/>
<circle cx="390.7" cy="238.2" r="1.6" fill="#000"/>
<line x1="416.5" y1="236.6" x2="416.5" y2="242.6" stroke="#111" stroke-width="0.8"/>
<circle cx="416.5" cy="239.6" r="1.6" fill="#000"/>
<line x1="434.1" y1="237.5" x2="434.1" y2="249.5" stroke="#111" stroke-width="0.8"/>
<circle cx="434.1" cy="241.3" r="1.6" fill="#000"/>
<line x1="454" y1="240.5" x2="454" y2="268" stroke="#111" stroke-width="0.8"/>
<circle cx="454" cy="245.1" r="1.6" fill="#000"/>
</g>
<text x="474.4" y="208.1" font-size="7.8" text-anchor="end" fill="#222" >0.55 &lt; x<tspan dy="0.7" font-size="4.6">F</tspan><tspan dy="-0.7"> &lt; 0.8</tspan></text>
<g clip-path="url(#r11)">
<rect x="282.45" y="315.5" width="206" height="4.55" fill="#c6c6ff"/>
<path d="M282.45 315.5 H488.45" stroke="#1f1fff" stroke-width="1.1" stroke-dasharray="2.9 1.1" fill="none"/>
<path d="M282.45 320.05 H488.45" stroke="#1f1fff" stroke-width="1.1" stroke-dasharray="2.9 1.1" fill="none"/>
<path d="M282.45 318.05 H488.45" stroke="#1f1fff" stroke-width="1.1" fill="none"/>
</g>
<rect x="282.45" y="276.5" width="206" height="45.7" fill="none" stroke="#1c1c1c" stroke-width="0.85"/>
<path d="M291.03 322.2 v-1.3 M291.03 276.5 v1.3 M299.62 322.2 v-1.3 M299.62 276.5 v1.3 M308.2 322.2 v-1.3 M308.2 276.5 v1.3 M316.78 322.2 v-2.2 M316.78 276.5 v2.2 M325.37 322.2 v-1.3 M325.37 276.5 v1.3 M333.95 322.2 v-1.3 M333.95 276.5 v1.3 M342.53 322.2 v-1.3 M342.53 276.5 v1.3 M351.12 322.2 v-1.3 M351.12 276.5 v1.3 M359.7 322.2 v-2.2 M359.7 276.5 v2.2 M368.28 322.2 v-1.3 M368.28 276.5 v1.3 M376.87 322.2 v-1.3 M376.87 276.5 v1.3 M385.45 322.2 v-1.3 M385.45 276.5 v1.3 M394.03 322.2 v-1.3 M394.03 276.5 v1.3 M402.62 322.2 v-2.2 M402.62 276.5 v2.2 M411.2 322.2 v-1.3 M411.2 276.5 v1.3 M419.78 322.2 v-1.3 M419.78 276.5 v1.3 M428.37 322.2 v-1.3 M428.37 276.5 v1.3 M436.95 322.2 v-1.3 M436.95 276.5 v1.3 M445.53 322.2 v-2.2 M445.53 276.5 v2.2 M454.12 322.2 v-1.3 M454.12 276.5 v1.3 M462.7 322.2 v-1.3 M462.7 276.5 v1.3 M471.28 322.2 v-1.3 M471.28 276.5 v1.3 M479.87 322.2 v-1.3 M479.87 276.5 v1.3 M282.45 317.6 h2.2 M488.45 317.6 h-2.2 M282.45 297.05 h2.2 M488.45 297.05 h-2.2 M282.45 313.49 h1.3 M488.45 313.49 h-1.3 M282.45 309.38 h1.3 M488.45 309.38 h-1.3 M282.45 305.27 h1.3 M488.45 305.27 h-1.3 M282.45 301.16 h1.3 M488.45 301.16 h-1.3 M282.45 292.94 h1.3 M488.45 292.94 h-1.3 M282.45 288.83 h1.3 M488.45 288.83 h-1.3 M282.45 284.72 h1.3 M488.45 284.72 h-1.3 M282.45 280.61 h1.3 M488.45 280.61 h-1.3" stroke="#1c1c1c" stroke-width="0.6" fill="none"/>
<text x="281.55" y="319.8" font-size="6.8" text-anchor="end" fill="#222" >0</text>
<text x="281.55" y="299.25" font-size="6.8" text-anchor="end" fill="#222" >5</text>
<text x="281.55" y="278.1" font-size="6.8" text-anchor="end" fill="#222" >10</text>
<g clip-path="url(#r11)">
<circle cx="290.3" cy="319.4" r="1.6" fill="#000"/>
<circle cx="300.3" cy="313.4" r="1.6" fill="#000"/>
<line x1="311.1" y1="303.1" x2="311.1" y2="306.1" stroke="#111" stroke-width="0.8"/>
<circle cx="311.1" cy="304.6" r="1.6" fill="#000"/>
<line x1="321.6" y1="291.3" x2="321.6" y2="298.8" stroke="#111" stroke-width="0.8"/>
<circle cx="321.6" cy="295.1" r="1.6" fill="#000"/>
<line x1="332.2" y1="278.8" x2="332.2" y2="288.8" stroke="#111" stroke-width="0.8"/>
<circle cx="332.2" cy="283.8" r="1.6" fill="#000"/>
<line x1="342.7" y1="280.5" x2="342.7" y2="292.6" stroke="#111" stroke-width="0.8"/>
<circle cx="342.7" cy="286.8" r="1.6" fill="#000"/>
<line x1="354.2" y1="276.3" x2="354.2" y2="291.3" stroke="#111" stroke-width="0.8"/>
<circle cx="354.2" cy="283.8" r="1.6" fill="#000"/>
<line x1="366.8" y1="284.3" x2="366.8" y2="296.3" stroke="#111" stroke-width="0.8"/>
<circle cx="366.8" cy="290.1" r="1.6" fill="#000"/>
<line x1="391" y1="292.3" x2="391" y2="310.1" stroke="#111" stroke-width="0.8"/>
<circle cx="391" cy="301.2" r="1.6" fill="#000"/>
<line x1="416.4" y1="270" x2="416.4" y2="291.8" stroke="#111" stroke-width="0.8"/>
<line x1="434.1" y1="270" x2="434.1" y2="303.3" stroke="#111" stroke-width="0.8"/>
<line x1="453.8" y1="270" x2="453.8" y2="330" stroke="#111" stroke-width="0.8"/>
</g>
<text x="316.78" y="328.1" font-size="6.8" text-anchor="middle" fill="#222" >1</text>
<text x="359.7" y="328.1" font-size="6.8" text-anchor="middle" fill="#222" >2</text>
<text x="402.62" y="328.1" font-size="6.8" text-anchor="middle" fill="#222" >3</text>
<text x="445.53" y="328.1" font-size="6.8" text-anchor="middle" fill="#222" >4</text>
<text x="488.45" y="328.1" font-size="6.8" text-anchor="middle" fill="#222" >5</text>
<text x="369.25" y="338" font-size="7.8" fill="#222">q</text>
<text x="373.65" y="339.5" font-size="5.3" fill="#222">T</text>
<text x="382.05" y="338" font-size="7.8" fill="#222">[GeV]</text>
<text x="74.6" y="32.3" font-size="7.7" text-anchor="start" fill="#222" >E866,</text>
<path d="M99.3 30.4 L100.6 29.8 L102.3 33.2 L104.4 25.2 H111.0" stroke="#222" stroke-width="0.8" fill="none" stroke-linejoin="miter"/>
<text x="105.8" y="32.3" font-size="7.7" text-anchor="start" fill="#222" >s</text>
<text x="111.3" y="32.3" font-size="7.7" text-anchor="start" fill="#222" >=38.8 GeV,</text>
<text x="154.3" y="32.3" font-size="7.7" text-anchor="start" fill="#222" >Q=5.2−6.2 GeV</text>
<text transform="translate(18.4 105.9) rotate(-90)" font-size="7.8" text-anchor="start" fill="#222">Ed<tspan dy="-3.2" font-size="5">3</tspan><tspan dy="3.2" dx="0.9" font-style="italic">σ</tspan>/d<tspan dy="-3.2" font-size="5">3</tspan><tspan dy="3.2">q</tspan><tspan dx="6.6">[pb/GeV</tspan><tspan dy="-3.2" font-size="5">2</tspan><tspan dy="3.2">]</tspan></text>
<text transform="translate(14.2 138.3) rotate(-90)" font-size="7.9" text-anchor="middle" fill="#222">data - NLO</text>
<text transform="translate(24.8 138.5) rotate(-90)" font-size="7.9" text-anchor="middle" fill="#222">NLO</text>
<path d="M15.9 117.9 V157.5" stroke="#222" stroke-width="0.6"/>
<text transform="translate(17.8 267.1) rotate(-90)" font-size="7.8" text-anchor="start" fill="#222">Ed<tspan dy="-3.2" font-size="5">3</tspan><tspan dy="3.2" dx="0.9" font-style="italic">σ</tspan>/d<tspan dy="-3.2" font-size="5">3</tspan><tspan dy="3.2">q</tspan><tspan dx="6.6">[pb/GeV</tspan><tspan dy="-3.2" font-size="5">2</tspan><tspan dy="3.2">]</tspan></text>
<text transform="translate(14.2 299.5) rotate(-90)" font-size="7.9" text-anchor="middle" fill="#222">data - NLO</text>
<text transform="translate(24.8 299.7) rotate(-90)" font-size="7.9" text-anchor="middle" fill="#222">NLO</text>
<path d="M15.9 279.1 V318.7" stroke="#222" stroke-width="0.6"/>
<path d="M48.0 346.5 H66.3" stroke="#1f1fff" stroke-width="0.9" stroke-dasharray="2.7 1.1"/>
<text x="71.8" y="349.2" font-size="7.9" text-anchor="start" fill="#222" >NLO</text>
<path d="M48.0 359.6 H66.3" stroke="#ff1a1a" stroke-width="0.9" stroke-dasharray="2.5 1.0 0.8 1.0"/>
<text x="71.8" y="361.4" font-size="7.9" text-anchor="start" fill="#222" >asymptotic</text>
</g>
</svg>
</body></html>
